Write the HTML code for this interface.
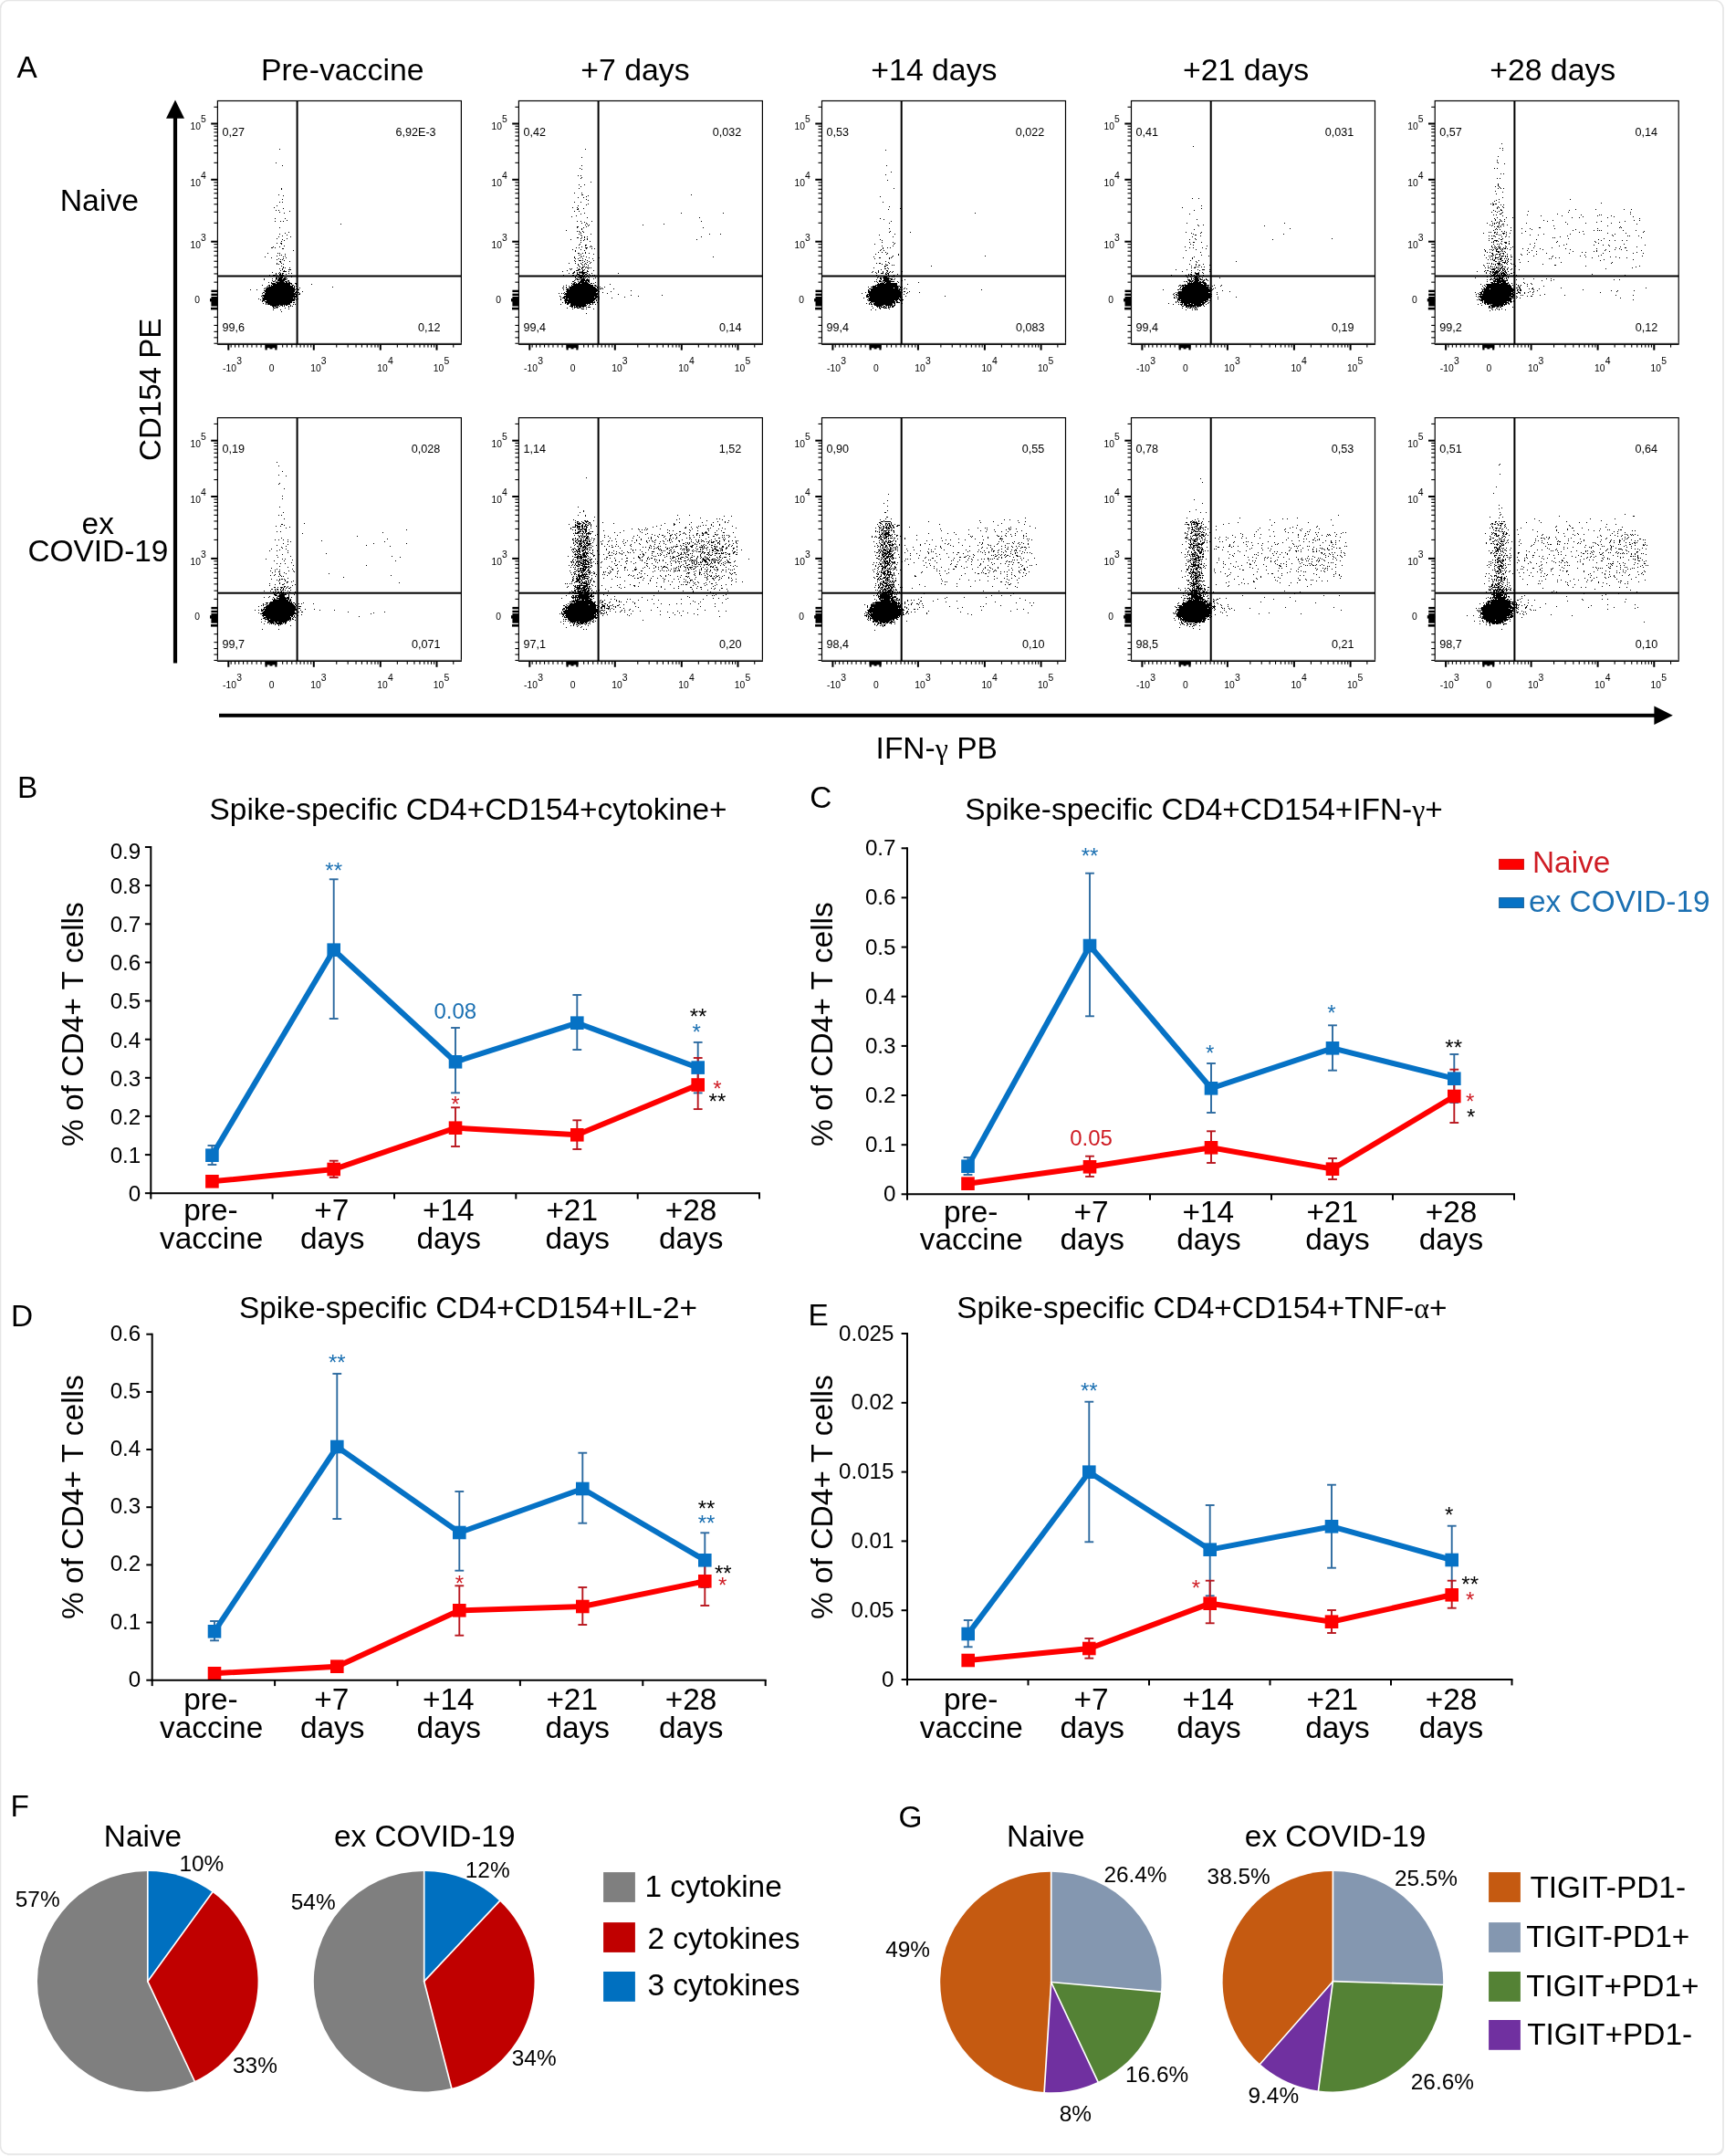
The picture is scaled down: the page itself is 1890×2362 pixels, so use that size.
<!DOCTYPE html><html><head><meta charset="utf-8"><title>Figure</title><style>
html,body{margin:0;padding:0;background:#fff}body{width:1890px;height:2362px;overflow:hidden}
svg{display:block;will-change:transform;font-family:"Liberation Sans",sans-serif}
</style></head><body>
<svg width="1890" height="2362" viewBox="0 0 1890 2362" font-family="Liberation Sans, sans-serif">
<rect x="0" y="0" width="1890" height="2362" fill="#fff"/>
<rect x="0.5" y="0.5" width="1887.5" height="2359.5" rx="9" ry="9" fill="#fff" stroke="#e6e6e6" stroke-width="1.6"/>
<path d="M1888.2 8 V2352 Q1888.2 2360.4 1880 2360.4 H8" fill="none" stroke="#e9e9e9" stroke-width="1.6"/>
<text x="18.6" y="85.2" font-size="33.4" text-anchor="start" fill="#000">A</text>
<text x="375.3" y="87.7" font-size="33.8" text-anchor="middle" fill="#000">Pre-vaccine</text>
<text x="695.9" y="87.7" font-size="33.8" text-anchor="middle" fill="#000">+7 days</text>
<text x="1023.4" y="87.7" font-size="33.8" text-anchor="middle" fill="#000">+14 days</text>
<text x="1365" y="87.7" font-size="33.8" text-anchor="middle" fill="#000">+21 days</text>
<text x="1701.2" y="87.7" font-size="33.8" text-anchor="middle" fill="#000">+28 days</text>
<text x="108.9" y="231.4" font-size="33.8" text-anchor="middle" fill="#000">Naive</text>
<text x="107.2" y="584.7" font-size="33.4" text-anchor="middle" fill="#000">ex</text>
<text x="107.4" y="615.3" font-size="33.4" text-anchor="middle" fill="#000">COVID-19</text>
<text transform="translate(176.3 505) rotate(-90)" font-size="33.1" text-anchor="start" fill="#000">CD154 PE</text>
<rect x="189.9" y="125" width="4.2" height="601.5" fill="#000"/>
<path d="M192 109.6 L202 129.8 L182 129.8 Z"/>
<rect x="240" y="781.8" width="1575" height="4" fill="#000"/>
<path d="M1832.8 783.8 L1812.4 773.6 L1812.4 794 Z"/>
<text x="959.6" y="831.3" font-size="33.5">IFN-<tspan font-family="Liberation Serif" font-size="32">γ</tspan> PB</text>
<defs><g id="ax"><rect x="-7.2" y="24" width="7.2" height="2"/><rect x="-7.2" y="85.3" width="7.2" height="2"/><rect x="-7.2" y="153.2" width="7.2" height="2"/><rect x="-4" y="6.2" width="4" height="1.1"/><rect x="-4" y="67.3" width="4" height="1.1"/><rect x="-4" y="133.2" width="4" height="1.1"/><rect x="-4" y="56.5" width="4" height="1.1"/><rect x="-4" y="121.2" width="4" height="1.1"/><rect x="-4" y="48.8" width="4" height="1.1"/><rect x="-4" y="112.7" width="4" height="1.1"/><rect x="-4" y="42.8" width="4" height="1.1"/><rect x="-4" y="106.1" width="4" height="1.1"/><rect x="-4" y="38" width="4" height="1.1"/><rect x="-4" y="100.7" width="4" height="1.1"/><rect x="-4" y="33.9" width="4" height="1.1"/><rect x="-4" y="96.2" width="4" height="1.1"/><rect x="-4" y="30.3" width="4" height="1.1"/><rect x="-4" y="92.2" width="4" height="1.1"/><rect x="-4" y="27.2" width="4" height="1.1"/><rect x="-4" y="88.8" width="4" height="1.1"/><rect x="-4" y="156.5" width="4" height="1.1"/><rect x="-4" y="160.1" width="4" height="1.1"/><rect x="-4" y="164.2" width="4" height="1.1"/><rect x="-4" y="169.1" width="4" height="1.1"/><rect x="-4" y="175.2" width="4" height="1.1"/><rect x="-4" y="181.6" width="4" height="1.1"/><rect x="-4" y="188.9" width="4" height="1.1"/><rect x="-4" y="198.1" width="4" height="1.1"/><rect x="-4" y="236.4" width="4" height="1.1"/><rect x="-4" y="245.4" width="4" height="1.1"/><rect x="-4" y="252.3" width="4" height="1.1"/><rect x="-4" y="258.8" width="4" height="1.1"/><rect x="-4" y="265.2" width="4" height="1.1"/><rect x="-7" y="207.2" width="7" height="2.4"/><rect x="-7" y="211.1" width="7" height="2.4"/><rect x="-7" y="214.4" width="7" height="10.6"/><rect x="-8.4" y="216.5" width="8.4" height="3.4"/><rect x="-7.4" y="226.3" width="7.4" height="2.6"/><rect x="10.9" y="266.5" width="2" height="6.6"/><rect x="104.4" y="266.5" width="2" height="6.6"/><rect x="177.4" y="266.5" width="2" height="6.6"/><rect x="239.1" y="266.5" width="2" height="6.6"/><rect x="14.2" y="266.5" width="1.1" height="3.6"/><rect x="18.6" y="266.5" width="1.1" height="3.6"/><rect x="22.8" y="266.5" width="1.1" height="3.6"/><rect x="27.6" y="266.5" width="1.1" height="3.6"/><rect x="32.1" y="266.5" width="1.1" height="3.6"/><rect x="37" y="266.5" width="1.1" height="3.6"/><rect x="42.2" y="266.5" width="1.1" height="3.6"/><rect x="47.1" y="266.5" width="1.1" height="3.6"/><rect x="70.7" y="266.5" width="1.1" height="3.6"/><rect x="75.5" y="266.5" width="1.1" height="3.6"/><rect x="80.8" y="266.5" width="1.1" height="3.6"/><rect x="86" y="266.5" width="1.1" height="3.6"/><rect x="90.2" y="266.5" width="1.1" height="3.6"/><rect x="94.2" y="266.5" width="1.1" height="3.6"/><rect x="98.2" y="266.5" width="1.1" height="3.6"/><rect x="101.8" y="266.5" width="1.1" height="3.6"/><rect x="129.8" y="266.5" width="1.1" height="3.6"/><rect x="142.2" y="266.5" width="1.1" height="3.6"/><rect x="151.1" y="266.5" width="1.1" height="3.6"/><rect x="157.5" y="266.5" width="1.1" height="3.6"/><rect x="163.3" y="266.5" width="1.1" height="3.6"/><rect x="168" y="266.5" width="1.1" height="3.6"/><rect x="172" y="266.5" width="1.1" height="3.6"/><rect x="175.1" y="266.5" width="1.1" height="3.6"/><rect x="257.8" y="266.5" width="1.1" height="3.6"/><rect x="196.4" y="266.5" width="1.1" height="3.6"/><rect x="207.3" y="266.5" width="1.1" height="3.6"/><rect x="215" y="266.5" width="1.1" height="3.6"/><rect x="221" y="266.5" width="1.1" height="3.6"/><rect x="225.9" y="266.5" width="1.1" height="3.6"/><rect x="230" y="266.5" width="1.1" height="3.6"/><rect x="233.6" y="266.5" width="1.1" height="3.6"/><rect x="236.7" y="266.5" width="1.1" height="3.6"/><rect x="52.1" y="266.5" width="13" height="4.2"/><rect x="52.1" y="266.5" width="2.2" height="6.4"/><rect x="57.1" y="266.5" width="3" height="5.4"/><rect x="62.9" y="266.5" width="2.2" height="6.4"/><rect x="0" y="0" width="267" height="266.5" fill="none" stroke="#000" stroke-width="1.2"/><rect x="0" y="264.9" width="267" height="1" fill="#bbb"/><rect x="0" y="265.9" width="267" height="1.4"/><rect x="86.2" y="0" width="2" height="266.5"/><rect x="0" y="191" width="267" height="2"/><g font-size="10.3"><text x="-30" y="31.9">10</text><text x="-18.4" y="23.9" font-size="10.4">5</text><text x="-30" y="93.2">10</text><text x="-18.4" y="85.2" font-size="10.4">4</text><text x="-30" y="161.1">10</text><text x="-18.4" y="153.1" font-size="10.4">3</text><text x="-25.2" y="221.8">0</text><text x="5.6" y="296.3">-10</text><text x="20.8" y="288.3" font-size="10.4">3</text><text x="56.4" y="296.3">0</text><text x="101.8" y="296.3">10</text><text x="113.4" y="288.3" font-size="10.4">3</text><text x="174.9" y="296.3">10</text><text x="186.5" y="288.3" font-size="10.4">4</text><text x="236.4" y="296.3">10</text><text x="248" y="288.3" font-size="10.4">5</text></g></g></defs>
<g transform="translate(238.4 110.5)">
<use href="#ax"/>
<path d="M68 52h1m-5 15h1m6 3h1m-2 25h1m-1 1h1m-4 6h1m4 1h1m-2 4h1m-4 3h1m2 0h1m-7 4h1m-4 2h1m9 1h1m-9 2h1m2 0h1m11 1h1m-12 1h1m4 1h1m-11 6h1m10 0h1m1 2h1m-14 1h1m5 0h1m2 0h1m62 3h1m-68 4h1m9 5h1m-5 1h1m-7 1h1m7 1h1m-6 1h1m-5 1h1m12 0h1m-16 2h1m10 0h1m-6 1h1m1 1h1m-4 1h1m-6 2h1m3 0h2m-1 1h1m2 2h1m-13 1h1m6 0h1m-10 1h2m2 0h1m7 1h2m10 2h1m-29 3h1m10 0h1m1 0h1m5 1h1m-7 1h1m1 0h1m-6 1h1m8 0h1m-23 1h1m19 0h1m-14 1h1m15 0h1m-9 1h1m4 0h1m-8 1h1m3 0h1m1 0h1m1 1h1m-6 1h2m9 0h1m-11 1h1m-5 1h1m4 0h1m-6 1h1m1 0h1m4 0h1m-3 2h1m1 1h1m-1 1h1m1 0h1m4 0h1m-12 1h1m2 0h1m-1 1h1m6 0h3m-12 1h1m3 0h1m-2 1h4m2 0h1m-19 1h1m7 0h1m-5 1h1m2 0h1m1 0h1m1 0h2m5 0h1m2 0h1m-18 1h1m3 0h2m1 0h1m3 0h1m-19 1h1m3 0h3m1 0h1m2 0h5m-5 1h4m2 0h1m2 0h1m-13 1h1m1 0h1m1 0h3m9 0h1m-18 1h2m1 0h5m1 0h3m-25 1h1m8 0h1m3 0h2m1 0h4m1 0h3m1 0h1m-26 1h1m12 0h1m1 0h10m-16 1h1m2 0h1m2 0h8m3 0h2m-18 1h2m1 0h1m1 0h1m1 0h5m1 0h3m1 0h1m-23 1h1m2 0h1m4 0h10m1 0h2m1 0h2m-21 1h5m1 0h17m3 0h2m-27 1h20m1 0h1m4 0h2m15 0h1m-55 1h1m6 0h2m1 0h1m1 0h19m2 0h2m-29 1h1m1 0h1m1 0h24m1 0h1m1 0h1m-33 1h1m1 0h27m1 0h1m2 0h1m38 0h1m-75 1h1m1 0h31m5 0h1m-40 1h1m1 0h32m1 0h1m1 0h1m-53 1h1m6 0h1m9 0h33m1 0h3m-39 1h34m-33 1h33m1 0h1m6 0h1m-44 1h2m1 0h31m1 0h2m1 0h2m-41 1h1m2 0h34m4 0h1m-39 1h36m1 0h2m-42 1h36m1 0h1m-39 1h1m1 0h37m-38 1h1m1 0h36m-37 1h33m1 0h1m2 0h1m-43 1h1m3 0h37m1 0h2m-42 1h1m2 0h35m1 0h1m-38 1h3m2 0h31m-36 1h1m2 0h30m-29 1h29m1 0h2m-35 1h1m2 0h1m1 0h25m-27 1h1m1 0h25m3 0h1m1 0h1m-28 1h10m1 0h3m1 0h1m1 0h2m3 0h1m-21 1h5m1 0h1m1 0h1m2 0h1m1 0h1m4 0h1m1 0h1m1 0h1m-22 1h1m2 0h3m11 0h1m-18 1h3m1 0h1m8 0h1m3 1h1m-18 1h1m7 0h1m0 2h1" stroke="#000" stroke-width="1" fill="none" transform="translate(0 .5)" shape-rendering="crispEdges"/>
<g font-size="12">
<text x="5" y="38.3" font-size="12.6" text-anchor="start" fill="#000">0,27</text>
<text x="239.2" y="38.2" font-size="12.6" text-anchor="end" fill="#000">6,92E-3</text>
<text x="5" y="252.5" font-size="12.6" text-anchor="start" fill="#000">99,6</text>
<text x="244" y="252.3" font-size="12.6" text-anchor="end" fill="#000">0,12</text>
</g>
</g>
<g transform="translate(568.4 110.5)">
<use href="#ax"/>
<path d="M73 52h1m-5 9h1m-1 9h1m-3 3h1m1 1h1m-5 7h1m2 0h1m0 2h1m-2 1h1m10 4h1m-14 3h1m5 0h1m-5 2h1m-3 2h1m-6 5h1m7 0h1m-1 2h2m118 0h1m-114 1h1m-3 1h1m-10 1h1m5 0h1m2 2h1m1 1h1m-16 2h1m6 0h1m7 2h1m-3 1h1m-10 1h1m-7 2h1m4 0h1m0 1h1m5 0h1m-8 1h2m-5 2h1m4 0h1m5 2h1m105 0h1m45 0h1m-157 1h1m-6 2h1m-6 1h1m16 1h1m122 0h1m-135 4h1m3 0h1m11 0h1m119 0h1m-129 1h1m-4 1h1m4 0h1m0 1h1m83 0h1m-87 1h1m3 0h1m58 0h1m-61 1h1m-13 1h2m8 0h1m-11 1h1m6 0h1m130 0h1m-134 1h1m-1 1h1m-18 1h1m11 1h1m1 0h1m3 0h1m-4 1h1m3 0h1m-4 1h1m-3 1h1m12 0h1m129 0h1m11 0h1m-154 1h1m0 1h1m2 1h1m2 0h1m124 0h1m-137 1h2m3 0h1m2 0h1m-5 1h1m6 0h1m-19 1h1m14 0h1m2 0h1m119 0h1m-128 1h1m2 0h1m6 1h1m-11 1h1m-2 2h1m-2 1h1m6 0h2m-2 1h1m5 0h1m-11 1h1m8 0h1m1 0h1m-18 1h1m2 0h1m6 0h3m-2 1h1m5 0h1m2 0h1m-25 1h1m8 0h1m-7 1h1m9 0h1m-11 1h1m10 1h1m-9 1h2m3 0h1m2 0h1m3 0h1m-10 1h1m13 0h1m-17 1h1m1 1h1m2 0h1m-11 1h1m7 0h1m4 0h1m138 0h1m-153 1h1m5 0h1m9 0h1m10 0h1m-27 1h1m2 0h1m4 0h1m10 0h1m-9 1h1m-13 1h1m4 0h3m1 0h1m4 0h1m6 0h1m-21 1h1m9 0h1m4 0h1m-8 1h1m4 0h1m3 0h1m-25 1h1m6 0h1m5 0h1m4 0h1m4 0h1m-14 1h1m3 0h1m2 0h1m1 0h1m-10 1h1m4 0h1m5 0h1m-11 1h1m5 0h1m-6 1h1m2 0h2m2 0h1m1 0h1m-13 1h1m4 0h2m2 0h1m1 0h1m1 0h1m1 0h1m-24 1h1m1 0h1m7 0h1m2 0h1m6 0h1m-20 1h1m7 0h3m2 0h1m1 0h1m-20 1h1m9 0h3m4 0h2m3 0h1m6 0h1m-35 1h1m12 0h1m5 0h1m1 0h2m4 0h2m-17 1h2m2 0h1m1 0h9m-20 1h1m3 0h2m3 0h1m2 0h1m1 0h4m2 0h1m4 0h1m28 0h1m-46 1h3m3 0h2m1 0h2m2 0h1m-29 1h1m9 0h2m2 0h1m2 0h5m1 0h1m2 0h1m2 0h1m2 0h1m1 0h1m-23 1h1m3 0h2m1 0h9m2 0h1m-18 1h1m3 0h7m1 0h1m1 0h1m-15 1h1m2 0h1m1 0h3m1 0h1m1 0h1m3 0h1m6 0h1m-22 1h2m2 0h1m1 0h4m2 0h1m6 0h1m-21 1h1m1 0h3m1 0h5m1 0h4m-17 1h1m6 0h10m-19 1h2m4 0h1m1 0h5m1 0h2m1 0h2m-17 1h2m3 0h10m1 0h1m6 0h1m-27 1h1m1 0h2m1 0h1m1 0h3m1 0h8m2 0h2m1 0h1m-24 1h20m21 0h1m-49 1h1m5 0h1m1 0h22m1 0h2m-36 1h1m5 0h1m2 0h24m2 0h2m-34 1h1m3 0h28m2 0h1m2 0h1m4 0h1m-47 1h2m2 0h1m2 0h30m1 0h1m4 0h1m-39 1h2m1 0h30m1 0h1m1 0h2m1 0h1m11 0h1m-56 1h1m2 0h35m-34 1h34m36 0h1m-72 1h34m2 0h1m12 0h1m-52 1h1m2 0h32m7 0h1m-49 1h1m2 0h1m1 0h1m1 0h37m9 0h1m-48 1h38m21 0h1m-58 1h34m1 0h1m35 0h1m33 0h1m-113 1h1m4 0h37m44 0h1m-86 1h1m2 0h34m1 0h3m1 0h1m27 0h1m-69 1h3m1 0h34m16 0h1m-57 1h1m3 0h4m1 0h30m3 0h1m-43 1h1m4 0h33m1 0h1m-36 1h33m2 0h1m-35 1h2m1 0h28m1 0h1m-36 1h1m2 0h33m2 0h1m-36 1h1m1 0h3m1 0h22m2 0h1m-36 1h1m6 0h2m2 0h17m1 0h1m2 0h2m1 0h1m2 0h1m-28 1h18m2 0h1m-22 1h4m1 0h1m1 0h11m-16 1h2m1 0h4m1 0h3m1 0h2m2 0h1m1 0h3m-26 1h1m7 0h1m2 0h3m1 0h1m-10 1h1m9 0h3m2 0h1m7 0h1m4 2h1m-14 3h1" stroke="#000" stroke-width="1" fill="none" transform="translate(0 .5)" shape-rendering="crispEdges"/>
<g font-size="12">
<text x="5" y="38.3" font-size="12.6" text-anchor="start" fill="#000">0,42</text>
<text x="243.8" y="38.2" font-size="12.6" text-anchor="end" fill="#000">0,032</text>
<text x="5" y="252.5" font-size="12.6" text-anchor="start" fill="#000">99,4</text>
<text x="244" y="252.3" font-size="12.6" text-anchor="end" fill="#000">0,14</text>
</g>
</g>
<g transform="translate(900.5 110.5)">
<use href="#ax"/>
<path d="M69 53h1m0 17h1m4 7h1m-7 3h1m1 6h1m6 9h1m-16 9h1m2 6h1m6 5h1m11 2h1m-14 1h1m94 4h1m-105 6h1m3 1h1m7 2h1m-3 2h1m-1 6h1m0 3h1m-2 1h1m22 0h1m-18 2h1m-18 1h1m14 2h1m-15 3h1m1 1h1m-1 2h1m11 0h1m1 1h1m-23 1h1m20 0h1m-14 2h1m11 0h1m-12 2h1m4 0h1m2 0h1m-9 1h1m-3 1h1m-2 1h1m3 0h1m-7 2h1m3 0h1m3 0h1m1 1h1m-14 1h1m11 0h1m12 0h1m-1 1h1m-7 1h1m100 0h1m-123 1h1m19 0h1m-15 1h2m9 0h1m1 0h1m-19 1h1m15 0h1m-5 3h1m2 1h1m-14 1h1m2 0h2m9 0h1m-9 1h1m3 0h1m0 1h2m4 0h1m1 0h1m-11 1h2m49 0h1m-52 1h1m-13 1h1m14 0h1m-4 1h2m2 0h1m-9 1h1m-4 1h1m8 0h2m-17 1h1m5 0h1m4 0h1m4 0h1m2 0h1m2 0h1m9 0h1m-34 1h1m3 0h1m2 0h1m4 0h1m3 0h1m2 0h1m2 0h1m-18 1h1m4 0h3m2 0h1m1 0h2m-4 1h2m1 0h1m9 0h1m-24 1h1m12 0h1m5 0h1m-17 1h2m3 0h3m1 0h3m2 0h1m7 0h1m-24 1h1m5 0h4m2 0h1m2 0h1m1 0h1m-19 1h1m2 0h2m1 0h7m-10 1h2m2 0h10m2 0h1m-21 1h1m4 0h1m2 0h6m2 0h2m1 0h1m11 0h1m-29 1h2m2 0h9m12 0h1m-31 1h1m1 0h1m2 0h3m1 0h1m1 0h11m3 0h1m-23 1h1m4 0h1m1 0h2m1 0h5m8 0h1m21 0h1m-45 1h1m1 0h5m1 0h13m-22 1h22m11 0h1m-36 1h24m-27 1h4m1 0h25m-35 1h1m2 0h30m2 0h1m1 0h1m-33 1h23m1 0h5m1 0h2m3 0h1m-40 1h32m1 0h1m1 0h1m2 0h1m2 0h1m-43 1h1m2 0h35m86 0h1m-125 1h2m1 0h32m-35 1h37m2 0h2m4 0h1m-49 1h1m2 0h36m1 0h1m5 0h1m12 0h1m-64 1h1m7 0h36m5 0h1m-44 1h38m2 0h1m-42 1h2m1 0h35m-38 1h39m4 0h1m42 0h1m-87 1h3m1 0h34m1 0h1m-43 1h1m5 0h33m1 0h2m-37 1h35m1 0h2m-39 1h1m1 0h32m1 0h5m-39 1h29m1 0h2m3 0h1m1 0h1m-35 1h27m1 0h2m3 0h1m-35 1h2m1 0h1m1 0h23m1 0h4m-37 1h1m2 0h1m1 0h1m2 0h21m1 0h2m7 0h1m-37 1h1m1 0h2m1 0h21m2 0h1m-23 1h10m2 0h8m1 0h2m-26 1h1m4 0h6m2 0h2m1 0h1m1 0h1m1 0h1m1 0h3m-19 1h1m1 0h1m1 0h4m1 0h1m2 0h3m1 0h2m-23 1h1m6 0h2m3 0h4m1 0h1m-10 1h1m9 0h1m-21 1h1m4 0h1" stroke="#000" stroke-width="1" fill="none" transform="translate(0 .5)" shape-rendering="crispEdges"/>
<g font-size="12">
<text x="5" y="38.3" font-size="12.6" text-anchor="start" fill="#000">0,53</text>
<text x="243.8" y="38.2" font-size="12.6" text-anchor="end" fill="#000">0,022</text>
<text x="5" y="252.5" font-size="12.6" text-anchor="start" fill="#000">99,4</text>
<text x="244" y="252.3" font-size="12.6" text-anchor="end" fill="#000">0,083</text>
</g>
</g>
<g transform="translate(1239.5 110.5)">
<use href="#ax"/>
<path d="M67 49h1m-2 57h1m6 0h1m2 8h1m-22 2h1m20 1h1m-9 2h1m-6 4h1m7 6h1m-12 4h1m106 0h1m-96 2h1m5 0h1m-6 1h1m71 0h1m27 3h1m-106 1h1m-10 3h1m16 0h1m-12 1h1m9 0h1m-9 1h1m98 0h1m-98 1h2m4 1h1m-10 1h1m2 2h1m149 0h1m-157 1h1m6 0h1m83 0h1m-92 3h1m3 0h2m7 0h1m-13 2h1m2 1h1m14 1h1m-25 1h1m4 1h1m3 0h1m9 0h1m3 1h1m-12 1h1m-12 1h1m15 2h1m0 3h1m7 1h1m-17 1h1m-13 1h1m9 0h1m-1 1h1m-3 2h1m8 0h1m-4 1h1m43 0h1m-44 1h1m-9 2h1m6 0h1m7 0h1m-9 1h1m2 0h2m10 0h1m-21 1h1m3 1h1m1 0h1m1 0h1m2 0h1m2 0h1m-15 1h1m2 0h2m-22 2h1m11 0h1m11 0h1m4 0h3m5 0h1m-21 1h1m8 0h1m-20 1h1m29 0h1m-21 1h1m3 0h1m3 0h1m3 0h1m-9 1h5m4 0h1m-17 1h1m1 0h2m4 0h4m-31 1h1m15 0h1m2 0h1m2 0h1m2 0h1m2 0h1m1 0h1m4 0h1m-19 1h1m1 0h1m5 0h6m1 0h1m3 0h1m-20 1h1m3 0h1m4 0h3m2 0h1m-14 1h1m3 0h1m2 0h6m3 0h1m18 0h1m-32 1h1m1 0h1m1 0h4m1 0h2m5 0h1m-21 1h3m1 0h1m2 0h6m1 0h3m1 0h1m1 0h2m-21 1h3m1 0h2m1 0h5m4 0h2m3 0h1m-27 1h1m1 0h2m2 0h4m1 0h5m1 0h2m1 0h2m-18 1h1m1 0h1m1 0h1m1 0h14m-20 1h15m2 0h4m-24 1h1m2 0h17m1 0h3m-30 1h2m1 0h30m5 0h1m7 0h1m-48 1h1m2 0h3m1 0h24m1 0h1m4 0h1m8 0h1m-45 1h1m2 0h29m1 0h1m-34 1h1m1 0h29m1 0h2m4 0h1m-40 1h1m2 0h30m2 0h1m1 0h1m-56 1h1m15 0h2m1 0h33m2 0h1m-34 1h33m11 0h1m-49 1h35m21 0h1m-60 1h1m1 0h34m2 0h1m6 0h1m-48 1h1m3 0h37m-42 1h1m2 0h2m1 0h35m1 0h1m5 0h1m-48 1h1m2 0h38m-39 1h1m2 0h35m1 0h1m-42 1h1m2 0h1m1 0h36m7 0h1m19 0h1m-69 1h2m1 0h1m1 0h36m-37 1h34m10 0h1m-45 1h3m1 0h30m-34 1h1m1 0h30m1 0h1m1 0h2m-39 1h1m1 0h1m3 0h25m1 0h3m-35 1h1m2 0h1m1 0h28m3 0h1m-45 1h1m14 0h1m1 0h7m1 0h11m1 0h3m3 0h1m-39 1h1m5 0h1m1 0h3m1 0h4m1 0h5m1 0h11m2 0h1m-28 1h1m2 0h20m1 0h1m-24 1h2m2 0h11m1 0h5m3 0h1m-21 1h2m1 0h1m1 0h2m1 0h1m1 0h2m1 0h1m-18 1h1m5 0h1m1 0h2m1 0h1m1 0h1m1 0h1m-2 1h1m1 0h1m-13 1h1m6 0h1m2 0h1m1 0h1" stroke="#000" stroke-width="1" fill="none" transform="translate(0 .5)" shape-rendering="crispEdges"/>
<g font-size="12">
<text x="5" y="38.3" font-size="12.6" text-anchor="start" fill="#000">0,41</text>
<text x="243.8" y="38.2" font-size="12.6" text-anchor="end" fill="#000">0,031</text>
<text x="5" y="252.5" font-size="12.6" text-anchor="start" fill="#000">99,4</text>
<text x="244" y="252.3" font-size="12.6" text-anchor="end" fill="#000">0,19</text>
</g>
</g>
<g transform="translate(1572.2 110.5)">
<use href="#ax"/>
<path d="M73 46h1m-3 5h1m2 0h1m-1 2h1m-6 7h1m-2 4h1m-1 2h1m0 1h1m6 1h1m-12 5h1m2 0h1m3 6h1m2 0h1m-8 5h1m2 0h1m-3 6h1m-1 1h1m-1 1h1m-4 1h1m3 0h1m0 1h1m-3 1h1m2 0h1m2 0h1m-10 3h1m7 1h1m-8 2h1m6 4h1m-5 2h1m77 0h1m-82 1h1m-3 1h1m4 1h1m-8 1h1m118 0h1m-122 1h1m2 0h1m1 0h2m-5 1h2m7 0h1m2 0h1m-7 2h1m4 0h1m-7 1h1m1 0h1m4 0h1m-8 1h1m3 1h1m81 0h1m21 0h1m30 0h1m7 0h1m-152 1h1m7 0h2m73 0h1m-82 1h1m3 0h1m31 0h1m-41 1h1m5 0h1m5 0h1m71 0h1m67 0h1m-142 1h1m-3 1h2m61 0h1m79 0h1m-151 1h1m2 0h1m33 0h1m58 0h1m19 0h1m1 0h1m-109 1h1m41 0h1m22 0h1m38 0h1m14 0h1m-32 1h1m33 0h1m20 0h1m-150 1h1m9 0h1m6 0h1m64 0h1m7 0h1m30 0h1m-125 1h1m158 0h1m-159 1h1m4 0h1m4 0h1m-11 1h1m5 0h1m46 0h1m9 0h1m88 0h1m5 0h1m-163 1h1m8 0h1m1 0h1m2 0h1m46 0h1m58 0h1m25 0h1m-141 1h1m1 0h1m72 0h1m33 0h1m24 0h1m-146 1h1m5 0h1m1 0h1m1 0h1m2 0h1m29 0h1m64 0h1m27 0h1m-129 1h1m4 0h1m3 0h2m69 0h1m75 0h1m-162 1h1m2 0h1m9 0h1m5 0h1m-18 1h1m6 0h1m1 0h1m3 0h1m54 0h1m58 0h1m-125 1h1m2 0h2m2 0h1m130 0h1m-134 1h1m12 0h1m30 0h2m86 0h1m1 0h1m-138 1h1m27 0h1m8 0h1m26 0h1m46 0h1m-113 1h1m1 0h1m2 0h1m34 0h1m47 0h1m-91 1h1m18 0h1m67 0h1m22 0h1m3 0h1m1 0h1m1 0h1m23 0h1m13 0h1m-148 1h1m2 0h1m22 0h1m62 0h1m66 0h1m-171 1h1m1 0h1m3 0h2m1 0h1m9 0h1m79 0h1m69 0h1m-176 1h1m11 0h1m8 0h3m5 0h1m12 0h1m93 0h1m19 0h1m-143 1h2m6 0h1m2 0h1m40 0h1m28 0h1m14 0h1m33 0h1m-128 1h1m1 0h1m31 0h1m8 0h1m80 0h1m-136 1h1m2 0h1m1 0h2m12 0h1m66 0h1m49 0h1m15 0h1m1 0h1m9 0h1m-158 1h1m6 0h1m3 0h1m3 0h1m55 0h1m-9 1h1m1 0h1m94 0h1m-168 1h1m2 0h2m6 0h1m3 0h1m71 0h1m38 0h1m-114 1h2m37 0h1m67 0h1m-121 1h1m5 0h4m113 0h1m8 0h1m5 0h1m7 0h1m4 0h1m-147 1h1m2 0h1m1 0h1m3 0h1m7 0h1m52 0h1m40 0h1m-114 1h1m1 0h1m11 0h3m54 0h1m42 0h1m-105 1h1m4 0h2m2 0h1m27 0h1m69 0h1m-116 1h1m3 0h1m1 0h1m2 0h1m7 0h1m22 0h1m39 0h1m62 0h1m-67 1h1m32 0h1m9 0h1m5 0h1m39 0h1m-169 1h1m2 0h1m4 0h1m6 0h1m31 0h1m26 0h1m54 0h1m-130 1h1m3 0h1m2 0h1m1 0h1m6 0h1m6 0h1m117 0h1m17 0h1m-159 1h1m1 0h1m1 0h1m2 0h2m3 0h1m1 0h1m5 0h1m24 0h1m19 0h1m69 0h1m9 0h2m-144 1h1m1 0h1m1 0h1m1 0h1m1 0h1m1 0h2m1 0h1m16 0h1m5 0h1m12 0h1m27 0h1m33 0h1m24 0h1m-149 1h1m5 0h1m1 0h1m1 0h1m2 0h2m3 0h1m1 0h1m7 0h1m35 0h1m29 0h1m38 0h1m9 0h1m6 0h1m-150 1h1m7 0h1m3 0h1m5 0h1m27 0h1m4 0h1m70 0h1m8 0h1m23 0h1m15 0h1m-172 1h1m11 0h4m1 0h1m1 0h1m1 0h1m34 0h1m39 0h1m22 0h1m2 0h1m13 0h1m-135 1h1m2 0h1m8 0h2m6 0h1m25 0h1m57 0h1m3 0h1m55 0h1m-160 1h2m8 0h1m1 0h2m46 0h1m24 0h1m36 0h1m32 0h1m10 0h1m-166 1h1m3 0h2m1 0h2m3 0h1m3 0h1m14 0h1m6 0h1m9 0h1m-58 1h1m8 0h2m1 0h1m4 0h1m11 0h1m11 0h1m68 0h1m17 0h1m-124 1h1m1 0h2m8 0h1m1 0h3m1 0h1m1 0h1m28 0h1m20 0h1m29 0h1m19 0h1m47 0h1m-165 1h1m2 0h1m3 0h1m2 0h1m3 0h1m1 0h1m3 0h2m43 0h1m36 0h1m26 0h1m5 0h1m-143 1h1m3 0h1m5 0h4m2 0h1m59 0h1m3 0h1m35 0h1m29 0h1m7 0h1m-148 1h1m2 0h1m4 0h3m2 0h1m1 0h1m1 0h1m44 0h1m1 0h1m-70 1h1m2 0h1m1 0h1m1 0h1m3 0h1m1 0h2m7 0h1m2 0h1m8 0h1m92 0h1m31 0h1m-154 1h2m7 0h2m2 0h1m1 0h1m101 0h1m-116 1h2m2 0h1m1 0h1m4 0h1m2 0h1m21 0h1m-33 1h1m3 0h4m1 0h1m13 0h1m44 0h1m55 0h1m-138 1h1m1 0h1m2 0h1m5 0h4m4 0h1m1 0h1m4 0h1m109 0h1m-132 1h1m1 0h1m1 0h1m2 0h3m1 0h1m5 0h1m4 0h1m1 0h1m31 0h1m-66 1h1m12 0h1m2 0h1m1 0h1m1 0h1m57 0h2m-79 1h1m3 0h1m2 0h1m9 0h1m2 0h1m13 0h1m76 0h1m58 0h1m-164 1h1m1 0h1m1 0h1m1 0h1m1 0h1m3 0h2m1 0h2m142 0h1m-166 1h1m2 0h2m7 0h2m1 0h1m1 0h2m6 0h1m135 0h1m-156 1h1m1 0h4m2 0h1m1 0h2m1 0h3m2 0h1m4 0h1m102 0h1m-126 1h4m3 0h1m1 0h1m2 0h1m1 0h1m2 0h1m3 0h1m3 0h1m4 0h1m-38 1h1m1 0h2m6 0h1m1 0h2m1 0h2m2 0h2m1 0h1m-32 1h1m7 0h1m5 0h2m1 0h2m1 0h5m2 0h1m2 0h2m2 0h1m-25 1h1m4 0h1m1 0h7m2 0h1m1 0h2m1 0h2m7 0h1m-31 1h1m3 0h1m2 0h1m1 0h4m1 0h1m1 0h5m1 0h1m4 0h2m-24 1h1m2 0h3m1 0h1m1 0h1m1 0h2m1 0h3m1 0h1m1 0h1m90 0h1m-111 1h4m1 0h5m1 0h6m7 0h1m2 0h1m118 0h1m-151 1h1m1 0h3m2 0h7m1 0h3m1 0h1m2 0h1m1 0h2m1 0h1m-29 1h1m3 0h1m3 0h3m1 0h3m2 0h2m4 0h1m-37 1h1m20 0h1m2 0h1m1 0h5m3 0h1m1 0h1m-20 1h2m1 0h11m1 0h1m1 0h1m18 0h1m10 0h1m13 0h1m4 0h1m-71 1h1m2 0h2m1 0h1m2 0h6m1 0h3m3 0h1m9 0h1m40 0h1m65 0h1m5 0h1m-139 1h3m1 0h12m37 0h1m9 0h1m-71 1h1m6 0h14m-17 1h3m1 0h1m2 0h5m1 0h4m2 0h1m16 0h1m-36 1h9m1 0h9m3 0h1m13 0h1m6 0h1m-56 1h1m5 0h24m1 0h1m7 0h1m11 0h1m4 0h1m-53 1h1m2 0h26m2 0h1m5 0h1m2 0h1m-43 1h1m2 0h1m1 0h27m7 0h1m1 0h1m7 0h1m17 0h1m-64 1h28m2 0h1m5 0h1m-40 1h2m1 0h29m4 0h2m1 0h2m13 0h1m30 0h1m92 0h1m-181 1h1m2 0h6m1 0h27m5 0h1m9 0h1m2 0h2m6 0h1m-63 1h35m3 0h2m1 0h2m13 0h1m53 0h1m-111 1h1m1 0h33m3 0h1m2 0h2m17 0h1m80 0h1m6 0h1m17 0h1m-168 1h35m1 0h1m3 0h1m12 0h1m3 0h1m90 0h1m-156 1h1m4 0h3m1 0h31m1 0h2m4 0h3m4 0h1m3 0h1m4 0h1m73 0h1m-135 1h1m2 0h2m1 0h33m1 0h1m1 0h2m2 0h1m4 0h1m-54 1h1m2 0h39m20 0h1m12 0h1m-71 1h1m1 0h32m1 0h2m7 0h1m1 0h1m18 0h1m26 0h1m55 0h1m18 0h1m-173 1h1m2 0h39m2 0h1m11 0h1m3 0h2m-60 1h1m1 0h33m1 0h3m1 0h1m2 0h1m-41 1h34m1 0h2m2 0h1m3 0h1m109 0h1m-156 1h1m2 0h34m-39 1h1m1 0h36m133 0h1m-168 1h3m1 0h30m2 0h1m-35 1h1m1 0h25m1 0h1m1 0h3m1 0h1m-35 1h1m1 0h27m2 0h1m-34 1h1m3 0h2m1 0h19m1 0h2m1 0h2m-35 1h1m7 0h1m1 0h3m1 0h1m1 0h16m2 0h1m-31 1h1m9 0h14m1 0h1m-18 1h2m1 0h9m1 0h3m-16 1h2m1 0h4m2 0h2m1 0h2m12 0h1m-27 1h1m1 0h1m1 0h1m3 0h1m-6 1h1m5 0h1m1 0h1m2 0h1m-11 1h1m2 0h1m3 0h1m6 0h1m-18 1h1" stroke="#000" stroke-width="1" fill="none" transform="translate(0 .5)" shape-rendering="crispEdges"/>
<g font-size="12">
<text x="5" y="38.3" font-size="12.6" text-anchor="start" fill="#000">0,57</text>
<text x="243.8" y="38.2" font-size="12.6" text-anchor="end" fill="#000">0,14</text>
<text x="5" y="252.5" font-size="12.6" text-anchor="start" fill="#000">99,2</text>
<text x="244" y="252.3" font-size="12.6" text-anchor="end" fill="#000">0,12</text>
</g>
</g>
<g transform="translate(238.4 457.7)">
<use href="#ax"/>
<path d="M65 48h1m1 4h1m3 6h1m-5 4h1m7 1h1m-8 8h1m-2 1h1m5 5h1m-3 8h1m-1 3h1m-4 9h1m3 6h1m-6 3h1m2 0h1m2 4h1m21 5h1m-26 1h2m1 1h1m-10 1h1m4 0h1m9 1h1m-5 1h1m131 2h1m-143 2h1m3 0h1m111 1h1m-89 1h1m59 3h1m-84 2h1m115 1h1m-124 1h1m3 0h1m4 0h1m4 0h1m36 1h1m-38 1h1m2 0h1m102 0h1m-112 2h1m98 0h1m35 0h1m-131 1h1m-13 1h1m97 0h1m-89 1h1m113 0h1m-120 1h1m0 1h1m-13 1h1m15 0h1m-8 1h1m-12 1h1m7 0h1m11 0h1m-1 2h1m41 1h1m-49 1h1m-7 1h1m14 1h1m110 0h1m-126 1h1m133 0h1m-148 2h1m17 0h1m2 0h1m7 1h1m-21 1h1m10 0h1m121 0h1m-115 2h1m-17 1h1m3 0h1m4 0h1m8 2h1m79 0h1m-96 1h1m8 1h1m-19 1h1m5 1h1m16 0h1m-20 1h1m4 0h1m-11 1h1m19 0h1m4 0h1m-21 1h1m3 0h2m15 0h1m-25 1h1m12 0h1m-6 1h1m6 0h1m46 0h1m-60 1h1m4 0h1m-11 1h1m3 0h1m6 0h1m120 0h1m-124 1h1m2 0h1m1 0h1m65 1h1m-62 1h1m-19 1h1m8 0h1m1 0h2m1 0h1m-9 1h1m2 0h1m5 0h1m-8 1h1m6 0h1m8 0h1m-8 1h2m3 0h1m-14 1h1m7 0h1m122 0h1m-143 1h1m10 0h1m4 0h1m-11 1h1m7 0h2m12 0h1m-29 1h1m24 0h1m-10 1h2m2 0h1m-16 1h2m2 0h1m2 0h3m1 0h1m2 0h1m3 0h1m-11 1h1m1 0h1m2 0h1m2 0h2m-21 1h2m2 0h1m1 0h2m2 0h1m2 0h1m-10 1h1m2 0h1m2 0h1m1 0h2m1 0h1m5 0h1m-30 1h1m6 0h1m5 0h1m5 0h1m6 0h1m-17 1h1m1 0h1m2 0h2m1 0h2m1 0h1m6 0h1m5 0h1m-19 1h7m13 0h1m-26 1h1m2 0h1m2 0h1m1 0h3m1 0h1m-13 1h3m3 0h8m2 0h1m5 0h1m-22 1h3m1 0h7m4 0h1m-22 1h1m8 0h8m4 0h1m-28 1h1m4 0h1m4 0h1m3 0h1m2 0h7m1 0h3m2 0h1m-20 1h1m2 0h14m-19 1h1m1 0h2m1 0h1m1 0h9m1 0h2m1 0h1m-20 1h17m1 0h2m-20 1h17m1 0h2m-23 1h22m1 0h1m-29 1h3m1 0h25m1 0h2m9 0h1m-45 1h1m3 0h1m2 0h26m2 0h1m3 0h1m2 0h1m12 0h1m-56 1h1m1 0h1m1 0h1m1 0h28m1 0h1m-38 1h1m1 0h1m3 0h31m1 0h1m-42 1h1m7 0h33m3 0h3m-41 1h35m1 0h1m-37 1h1m1 0h33m1 0h1m1 0h2m-43 1h1m1 0h38m8 0h1m9 0h1m-66 1h1m3 0h1m2 0h3m1 0h36m3 0h1m20 0h1m15 0h1m-81 1h2m1 0h34m-35 1h35m3 0h2m2 0h2m49 0h1m39 0h1m-139 1h1m3 0h37m1 0h1m83 0h1m-125 1h40m81 0h1m-119 1h34m8 0h1m-44 1h34m1 0h1m3 0h1m-39 1h1m2 0h27m1 0h2m1 0h1m70 0h1m-105 1h30m2 0h1m1 0h1m-36 1h3m1 0h27m1 0h1m-35 1h1m3 0h5m1 0h23m1 0h2m-29 1h24m1 0h1m4 0h1m-34 1h1m3 0h21m2 0h1m-32 1h1m6 0h7m1 0h3m1 0h9m-21 1h1m2 0h5m1 0h7m1 0h1m1 0h2m-25 1h1m5 0h1m1 0h1m1 0h1m1 0h1m1 0h7m2 0h1m-12 1h1m3 0h1m1 0h1m-3 1h1m12 0h1m-32 4h1m17 0h1" stroke="#000" stroke-width="1" fill="none" transform="translate(0 .5)" shape-rendering="crispEdges"/>
<g font-size="12">
<text x="5" y="38.3" font-size="12.6" text-anchor="start" fill="#000">0,19</text>
<text x="243.8" y="38.2" font-size="12.6" text-anchor="end" fill="#000">0,028</text>
<text x="5" y="252.5" font-size="12.6" text-anchor="start" fill="#000">99,7</text>
<text x="244" y="252.3" font-size="12.6" text-anchor="end" fill="#000">0,071</text>
</g>
</g>
<g transform="translate(568.4 457.7)">
<use href="#ax"/>
<path d="M74 65h1m-10 32h1m5 4h1m-1 1h1m-5 1h1m-3 3h1m7 0h1m100 0h1m12 0h1m-115 1h1m151 0h1m7 0h1m-151 1h1m115 1h1m-24 1h1m40 0h1m2 0h1m-161 1h1m112 0h1m49 0h1m-162 1h1m9 0h2m1 0h1m6 0h1m123 0h1m23 0h1m-167 1h2m3 0h1m3 0h4m141 0h1m7 0h1m-165 1h1m1 0h1m1 0h1m3 0h2m2 0h1m2 0h2m13 0h1m83 0h1m12 0h1m11 0h1m11 0h1m12 0h1m2 0h1m-166 1h5m2 0h2m3 0h1m1 0h1m25 0h1m55 0h1m9 0h1m-116 1h1m6 0h1m2 0h3m2 0h1m2 0h2m2 0h1m1 0h1m90 0h2m15 0h1m23 0h1m8 0h1m-159 1h3m4 0h2m2 0h1m1 0h2m2 0h1m76 0h1m13 0h1m31 0h1m2 0h1m5 0h1m8 0h1m-159 1h1m1 0h4m1 0h2m1 0h3m4 0h1m5 0h1m65 0h1m45 0h1m1 0h1m13 0h1m20 0h1m-176 1h4m1 0h4m1 0h2m1 0h1m1 0h2m71 0h1m35 0h1m5 0h1m5 0h1m-139 1h1m6 0h1m1 0h1m3 0h1m3 0h1m4 0h1m59 0h1m42 0h2m12 0h1m13 0h1m12 0h1m14 0h1m-182 1h1m7 0h3m1 0h6m49 0h1m6 0h1m9 0h1m13 0h1m34 0h1m16 0h2m10 0h1m6 0h1m-168 1h1m2 0h1m2 0h1m1 0h3m2 0h3m2 0h1m54 0h1m2 0h1m2 0h1m1 0h1m22 0h1m23 0h1m-126 1h1m4 0h1m2 0h1m2 0h2m18 0h1m21 0h1m49 0h1m3 0h1m18 0h1m7 0h1m11 0h1m8 0h1m4 0h1m-158 1h4m1 0h2m1 0h2m3 0h1m1 0h2m51 0h1m42 0h2m27 0h1m-144 1h1m1 0h3m4 0h1m1 0h1m2 0h2m27 0h1m5 0h1m23 0h1m27 0h1m17 0h1m5 0h1m13 0h1m2 0h3m8 0h1m8 0h2m9 0h1m-176 1h1m1 0h4m1 0h1m1 0h2m1 0h1m1 0h6m61 0h1m23 0h1m7 0h1m6 0h1m1 0h1m12 0h2m4 0h2m1 0h1m1 0h1m-137 1h1m3 0h1m1 0h1m1 0h1m7 0h1m52 0h1m6 0h1m7 0h1m13 0h1m2 0h1m5 0h1m5 0h1m11 0h1m6 0h1m4 0h2m6 0h2m1 0h1m-158 1h1m3 0h1m2 0h1m1 0h1m3 0h1m9 0h1m9 0h1m13 0h1m21 0h1m18 0h1m7 0h2m7 0h2m4 0h1m3 0h1m10 0h1m3 0h1m3 0h1m2 0h1m2 0h2m14 0h1m5 0h1m1 0h1m2 0h1m1 0h1m-165 1h2m1 0h1m1 0h3m1 0h2m21 0h1m27 0h1m25 0h1m7 0h1m5 0h1m46 0h2m16 0h1m-166 1h1m2 0h2m1 0h1m1 0h3m17 0h1m37 0h1m12 0h1m7 0h1m5 0h1m13 0h1m13 0h1m4 0h1m5 0h1m9 0h1m14 0h1m1 0h1m4 0h1m6 0h1m-176 1h1m4 0h1m3 0h1m2 0h2m1 0h1m2 0h1m19 0h1m24 0h1m16 0h1m2 0h1m20 0h1m2 0h1m3 0h1m10 0h1m3 0h1m30 0h2m-162 1h2m1 0h1m1 0h2m2 0h2m3 0h4m5 0h2m22 0h1m27 0h1m10 0h1m15 0h1m3 0h1m6 0h1m14 0h1m17 0h1m9 0h1m8 0h1m1 0h1m-168 1h1m4 0h1m3 0h1m2 0h1m1 0h1m3 0h1m1 0h1m35 0h1m13 0h1m4 0h1m15 0h1m14 0h1m1 0h1m11 0h1m9 0h1m4 0h1m2 0h1m2 0h1m10 0h1m13 0h1m-166 1h1m1 0h2m1 0h5m1 0h5m1 0h1m4 0h1m9 0h1m6 0h1m2 0h1m16 0h1m4 0h1m4 0h1m10 0h1m2 0h1m2 0h1m2 0h1m8 0h1m4 0h1m1 0h1m9 0h2m20 0h1m3 0h2m6 0h1m6 0h2m2 0h1m4 0h1m4 0h1m3 0h1m3 0h1m1 0h1m-179 1h1m2 0h1m1 0h2m1 0h2m3 0h1m1 0h2m11 0h1m7 0h1m8 0h1m6 0h1m25 0h1m6 0h1m7 0h1m3 0h1m8 0h1m7 0h1m12 0h1m5 0h1m1 0h1m2 0h1m2 0h1m2 0h1m1 0h1m2 0h1m1 0h2m5 0h1m9 0h1m7 0h1m-179 1h1m2 0h2m2 0h1m1 0h1m1 0h2m1 0h2m5 0h1m35 0h1m9 0h1m13 0h1m7 0h1m16 0h1m16 0h1m1 0h1m1 0h1m3 0h1m4 0h1m11 0h1m2 0h3m4 0h2m18 0h1m-179 1h1m3 0h1m1 0h4m2 0h1m1 0h6m11 0h1m23 0h1m16 0h1m21 0h1m4 0h1m20 0h2m3 0h1m1 0h1m5 0h1m4 0h1m8 0h1m10 0h1m1 0h1m6 0h1m7 0h1m3 0h1m-178 1h1m3 0h3m2 0h1m1 0h1m2 0h3m12 0h1m5 0h1m9 0h1m15 0h1m9 0h1m15 0h1m11 0h1m11 0h1m9 0h1m2 0h1m6 0h1m1 0h1m7 0h1m5 0h1m5 0h1m4 0h1m5 0h1m4 0h1m-171 1h1m4 0h1m1 0h2m2 0h1m1 0h4m1 0h1m5 0h1m16 0h1m13 0h1m5 0h1m21 0h1m32 0h1m2 0h1m9 0h2m8 0h1m1 0h1m2 0h1m5 0h2m17 0h1m3 0h1m-171 1h2m1 0h3m1 0h3m1 0h1m5 0h1m12 0h1m4 0h1m6 0h1m2 0h1m13 0h1m21 0h1m2 0h1m4 0h1m1 0h1m14 0h1m1 0h3m3 0h1m3 0h1m1 0h1m3 0h3m4 0h1m5 0h1m1 0h1m10 0h2m1 0h1m5 0h2m5 0h1m2 0h1m5 0h1m-183 1h1m7 0h1m2 0h1m1 0h5m2 0h1m1 0h1m22 0h2m32 0h1m2 0h1m3 0h1m8 0h1m8 0h1m5 0h1m1 0h1m2 0h1m10 0h2m4 0h2m7 0h4m1 0h1m3 0h1m3 0h1m3 0h1m1 0h1m5 0h2m3 0h1m10 0h1m-179 1h1m4 0h2m2 0h2m1 0h1m1 0h1m1 0h1m1 0h1m31 0h1m31 0h1m1 0h1m3 0h1m1 0h1m1 0h1m9 0h1m1 0h1m2 0h1m9 0h1m5 0h1m9 0h1m6 0h1m1 0h1m1 0h2m5 0h1m2 0h1m4 0h1m1 0h1m4 0h2m6 0h2m-178 1h2m1 0h1m2 0h3m1 0h1m2 0h4m20 0h1m26 0h1m24 0h1m4 0h1m1 0h1m6 0h2m13 0h1m2 0h3m1 0h1m1 0h1m9 0h1m2 0h1m2 0h1m11 0h3m4 0h1m1 0h1m3 0h1m7 0h1m-178 1h1m1 0h1m2 0h1m1 0h2m3 0h3m2 0h1m1 0h2m2 0h1m14 0h1m28 0h1m2 0h1m4 0h1m8 0h1m11 0h1m1 0h1m9 0h2m2 0h1m8 0h1m4 0h2m1 0h1m3 0h1m3 0h1m3 0h1m1 0h1m4 0h1m2 0h1m2 0h2m2 0h3m3 0h2m15 0h1m4 0h1m-182 1h2m1 0h2m1 0h3m1 0h1m7 0h1m4 0h1m17 0h1m8 0h1m11 0h1m30 0h1m1 0h1m1 0h1m4 0h1m15 0h1m2 0h1m1 0h1m3 0h1m2 0h1m18 0h2m3 0h3m1 0h1m1 0h1m10 0h1m-176 1h1m1 0h2m1 0h4m2 0h1m2 0h1m2 0h1m22 0h1m7 0h1m11 0h1m15 0h1m10 0h3m18 0h1m2 0h2m13 0h1m5 0h1m3 0h1m1 0h3m1 0h2m6 0h1m5 0h1m20 0h2m-178 1h1m3 0h1m2 0h1m3 0h5m2 0h1m2 0h1m17 0h1m2 0h1m7 0h1m4 0h1m4 0h1m1 0h1m3 0h1m12 0h1m17 0h1m5 0h1m1 0h1m3 0h1m4 0h1m3 0h1m2 0h2m1 0h1m16 0h1m1 0h2m2 0h2m3 0h1m4 0h1m4 0h1m1 0h1m1 0h2m7 0h2m2 0h1m-178 1h1m2 0h2m3 0h3m1 0h3m2 0h2m17 0h1m5 0h1m2 0h1m3 0h1m1 0h1m22 0h1m9 0h1m5 0h1m2 0h1m8 0h2m2 0h1m6 0h1m2 0h1m3 0h1m5 0h1m1 0h1m9 0h1m2 0h1m4 0h1m6 0h3m1 0h2m1 0h3m4 0h1m1 0h1m3 0h1m-175 1h4m1 0h3m1 0h3m1 0h1m6 0h1m6 0h1m4 0h1m12 0h1m6 0h1m19 0h1m2 0h2m18 0h1m5 0h1m14 0h2m1 0h1m2 0h1m1 0h2m12 0h1m6 0h2m1 0h1m2 0h1m14 0h1m2 0h2m6 0h2m-178 1h1m2 0h1m2 0h1m1 0h4m1 0h1m6 0h2m15 0h2m1 0h1m14 0h1m19 0h1m8 0h1m6 0h1m1 0h1m3 0h1m15 0h2m9 0h1m3 0h1m8 0h1m8 0h1m1 0h2m3 0h1m5 0h1m-168 1h1m4 0h1m4 0h6m1 0h4m1 0h1m5 0h1m48 0h1m4 0h1m11 0h1m1 0h1m11 0h1m3 0h1m2 0h1m3 0h2m8 0h1m8 0h1m3 0h1m2 0h1m4 0h1m15 0h1m10 0h1m-171 1h5m1 0h8m3 0h1m17 0h2m33 0h2m2 0h1m6 0h1m17 0h1m8 0h3m6 0h3m3 0h2m3 0h2m5 0h1m3 0h1m3 0h1m1 0h1m2 0h1m7 0h1m2 0h2m3 0h3m-164 1h6m6 0h1m23 0h1m4 0h1m12 0h2m6 0h1m5 0h2m7 0h1m3 0h2m19 0h1m1 0h2m5 0h1m1 0h1m4 0h1m5 0h1m6 0h1m3 0h1m2 0h1m2 0h1m1 0h1m10 0h1m4 0h1m-164 1h1m3 0h1m3 0h2m1 0h1m1 0h1m1 0h1m1 0h1m1 0h2m3 0h1m9 0h1m1 0h1m16 0h1m27 0h1m1 0h1m5 0h1m22 0h1m2 0h1m1 0h2m7 0h1m8 0h1m5 0h3m2 0h3m3 0h4m4 0h1m10 0h1m20 0h1m-194 1h1m2 0h1m2 0h1m1 0h1m2 0h5m3 0h2m26 0h1m26 0h1m1 0h1m13 0h1m1 0h1m2 0h1m3 0h1m8 0h1m17 0h1m2 0h3m1 0h1m1 0h1m7 0h4m2 0h2m1 0h2m3 0h2m1 0h1m2 0h1m5 0h1m-170 1h1m4 0h1m1 0h1m1 0h2m1 0h6m1 0h1m27 0h1m11 0h2m15 0h1m4 0h1m13 0h1m3 0h1m10 0h1m1 0h1m2 0h1m6 0h3m3 0h1m2 0h2m1 0h1m1 0h1m5 0h1m1 0h3m3 0h1m3 0h3m2 0h1m2 0h1m7 0h1m7 0h1m-181 1h2m1 0h1m2 0h5m2 0h2m1 0h1m1 0h2m2 0h1m2 0h1m3 0h1m4 0h1m10 0h1m7 0h1m6 0h1m5 0h1m26 0h1m15 0h1m5 0h1m2 0h2m1 0h1m10 0h1m2 0h1m2 0h1m3 0h1m1 0h1m2 0h3m4 0h1m3 0h1m4 0h1m5 0h1m2 0h2m5 0h1m-179 1h1m1 0h1m2 0h1m1 0h1m1 0h3m1 0h3m2 0h3m1 0h1m9 0h1m37 0h1m9 0h1m13 0h1m8 0h1m10 0h1m10 0h1m6 0h1m1 0h1m2 0h1m1 0h1m1 0h2m4 0h1m1 0h1m3 0h1m2 0h2m2 0h2m4 0h1m3 0h1m1 0h3m-171 1h1m2 0h1m2 0h4m1 0h2m1 0h1m2 0h1m4 0h1m1 0h1m18 0h1m12 0h1m7 0h1m13 0h2m4 0h1m20 0h1m8 0h1m6 0h1m6 0h1m1 0h1m2 0h1m11 0h1m2 0h1m1 0h1m6 0h1m2 0h1m3 0h1m-168 1h1m2 0h1m2 0h3m2 0h8m30 0h1m54 0h1m16 0h1m5 0h2m5 0h2m2 0h2m1 0h1m2 0h1m1 0h3m1 0h1m14 0h1m-170 1h1m2 0h1m2 0h1m1 0h2m1 0h1m1 0h3m1 0h1m6 0h2m25 0h2m4 0h1m27 0h1m7 0h1m18 0h1m10 0h1m5 0h2m4 0h1m12 0h1m4 0h1m6 0h1m5 0h1m3 0h1m6 0h1m4 0h1m-174 1h3m3 0h5m1 0h2m2 0h1m18 0h1m41 0h1m8 0h1m5 0h1m2 0h2m14 0h1m1 0h1m3 0h1m10 0h1m1 0h1m1 0h1m2 0h1m10 0h2m1 0h1m21 0h1m3 0h1m-183 1h1m2 0h1m1 0h1m8 0h6m1 0h2m10 0h1m10 0h1m14 0h2m10 0h1m9 0h1m11 0h1m2 0h1m4 0h2m1 0h2m10 0h1m3 0h1m4 0h2m1 0h1m1 0h4m3 0h1m7 0h1m3 0h1m3 0h1m1 0h2m2 0h2m9 0h1m-163 1h1m1 0h5m1 0h2m2 0h1m19 0h1m10 0h1m7 0h1m19 0h1m6 0h1m4 0h1m8 0h1m5 0h1m6 0h1m1 0h1m2 0h1m9 0h1m2 0h1m4 0h1m6 0h1m-140 1h2m2 0h1m1 0h2m1 0h4m2 0h1m25 0h2m23 0h3m23 0h1m13 0h1m4 0h1m10 0h1m2 0h1m2 0h1m1 0h2m7 0h1m3 0h1m2 0h1m6 0h1m2 0h2m11 0h1m5 0h1m-173 1h1m3 0h1m1 0h4m2 0h2m25 0h1m12 0h1m2 0h1m7 0h2m28 0h1m6 0h1m5 0h1m4 0h2m9 0h1m11 0h1m1 0h1m5 0h1m3 0h1m4 0h1m2 0h1m4 0h2m2 0h1m4 0h1m1 0h1m-179 1h1m6 0h1m1 0h8m2 0h2m1 0h1m21 0h1m8 0h1m15 0h1m8 0h2m13 0h1m5 0h1m3 0h1m2 0h1m3 0h1m4 0h2m1 0h1m1 0h1m4 0h1m1 0h1m10 0h1m11 0h1m3 0h1m6 0h1m-157 1h2m2 0h2m2 0h1m1 0h1m2 0h1m2 0h2m3 0h1m10 0h1m1 0h1m5 0h1m6 0h1m38 0h1m22 0h1m21 0h1m5 0h1m5 0h1m1 0h1m2 0h1m12 0h1m4 0h1m-171 1h1m2 0h1m7 0h3m2 0h1m2 0h3m1 0h1m2 0h1m9 0h1m4 0h1m1 0h1m31 0h1m52 0h3m10 0h2m12 0h1m18 0h1m4 0h2m-177 1h2m3 0h1m3 0h1m1 0h1m1 0h1m3 0h1m3 0h2m15 0h1m8 0h1m25 0h1m3 0h1m45 0h1m1 0h1m6 0h1m4 0h1m4 0h1m2 0h1m9 0h1m15 0h1m1 0h1m-177 1h1m2 0h1m1 0h1m1 0h2m2 0h7m1 0h1m7 0h1m6 0h1m1 0h1m26 0h1m8 0h1m33 0h1m27 0h1m5 0h1m1 0h1m6 0h1m25 0h1m4 0h1m-174 1h7m1 0h1m6 0h1m16 0h1m22 0h1m2 0h1m2 0h1m14 0h1m13 0h1m5 0h1m4 0h1m11 0h1m14 0h1m10 0h1m4 0h1m1 0h1m4 0h1m2 0h1m5 0h1m-166 1h1m2 0h1m1 0h5m1 0h6m7 0h1m21 0h1m18 0h1m9 0h1m11 0h1m8 0h1m4 0h1m12 0h1m8 0h2m1 0h1m20 0h1m2 0h2m2 0h1m2 0h2m4 0h1m-165 1h1m4 0h1m1 0h2m1 0h4m4 0h1m9 0h1m20 0h1m2 0h1m21 0h2m42 0h1m7 0h1m8 0h1m9 0h1m1 0h1m9 0h1m3 0h1m9 0h1m-171 1h1m2 0h2m1 0h2m2 0h1m1 0h5m3 0h1m12 0h1m33 0h1m2 0h2m5 0h1m7 0h1m6 0h1m5 0h1m28 0h1m18 0h1m5 0h2m1 0h1m6 0h1m7 0h1m2 0h1m-175 1h1m3 0h6m1 0h3m2 0h1m4 0h1m6 0h1m14 0h1m57 0h1m9 0h1m4 0h1m5 0h1m11 0h1m13 0h1m5 0h1m6 0h1m17 0h1m-180 1h2m3 0h3m2 0h1m6 0h1m1 0h2m56 0h1m7 0h1m14 0h1m23 0h1m4 0h3m15 0h1m7 0h1m4 0h1m14 0h1m-176 1h1m3 0h4m1 0h2m3 0h2m1 0h1m2 0h1m2 0h1m33 0h1m27 0h1m19 0h1m23 0h1m44 0h1m-176 1h1m3 0h3m1 0h2m2 0h1m1 0h1m1 0h1m1 0h1m1 0h1m3 0h2m75 0h1m8 0h1m7 0h1m4 0h1m1 0h1m1 0h1m5 0h1m4 0h1m12 0h1m28 0h1m6 0h1m-185 1h1m4 0h2m1 0h6m1 0h1m1 0h1m53 0h1m18 0h1m33 0h1m1 0h1m5 0h1m3 0h1m7 0h1m10 0h1m-166 1h1m1 0h1m2 0h1m1 0h1m9 0h2m1 0h5m1 0h1m64 0h1m49 0h1m10 0h1m7 0h2m-146 1h1m1 0h1m4 0h4m2 0h1m30 0h1m10 0h1m43 0h1m11 0h1m1 0h1m2 0h2m9 0h1m11 0h1m10 0h1m9 0h1m5 0h1m-174 1h1m1 0h1m1 0h12m5 0h1m9 0h1m16 0h1m17 0h2m63 0h1m12 0h1m10 0h1m6 0h1m-169 1h1m6 0h2m1 0h1m1 0h2m3 0h5m1 0h2m5 0h1m42 0h1m3 0h1m19 0h1m4 0h1m18 0h1m20 0h1m16 0h1m-161 1h1m8 0h6m2 0h4m1 0h1m1 0h1m23 0h1m8 0h1m5 0h1m39 0h1m31 0h2m9 0h2m-140 1h1m2 0h9m1 0h4m1 0h1m32 0h1m57 0h1m4 0h1m19 0h1m15 0h1m3 0h1m6 0h2m-161 1h5m1 0h1m1 0h4m1 0h1m1 0h1m16 0h1m64 0h1m29 0h1m9 0h1m13 0h1m13 0h1m-168 1h2m2 0h1m2 0h7m1 0h2m2 0h1m7 0h1m118 0h1m12 0h1m-163 1h1m2 0h2m1 0h5m1 0h4m1 0h3m2 0h1m4 0h1m1 0h1m10 0h1m54 0h1m26 0h1m10 0h1m37 0h1m-174 1h1m2 0h2m1 0h1m2 0h6m1 0h5m5 0h1m108 0h1m18 0h1m-154 1h1m2 0h4m1 0h5m1 0h4m1 0h3m3 0h1m49 0h1m6 0h1m28 0h1m66 0h1m-181 1h1m5 0h9m2 0h6m2 0h1m1 0h1m1 0h1m128 0h1m-148 1h12m1 0h2m12 0h1m122 0h1m10 0h1m-176 1h1m6 0h2m1 0h15m1 0h3m1 0h1m14 0h1m50 0h1m57 0h1m5 0h1m1 0h1m9 0h1m-167 1h1m1 0h1m1 0h2m1 0h18m22 0h1m79 0h1m-128 1h20m2 0h1m6 0h1m47 0h1m51 0h1m-141 1h1m11 0h2m1 0h1m1 0h1m1 0h13m3 0h1m130 0h1m5 0h1m9 0h1m-168 1h1m1 0h4m1 0h8m1 0h3m20 0h1m3 0h1m13 0h1m2 0h1m23 0h1m31 0h1m23 0h1m24 0h1m-168 1h1m1 0h4m1 0h1m1 0h3m1 0h7m10 0h1m3 0h1m12 0h1m23 0h1m9 0h1m11 0h1m-96 1h23m8 0h1m2 0h1m14 0h1m2 0h1m80 0h1m-136 1h2m1 0h3m1 0h19m1 0h2m6 0h2m7 0h1m9 0h1m1 0h1m5 0h1m6 0h1m67 0h1m5 0h1m-142 1h1m2 0h23m5 0h1m1 0h1m7 0h1m27 0h1m95 0h1m-170 1h1m1 0h28m10 0h2m31 0h1m20 0h1m7 0h1m16 0h1m4 0h1m9 0h1m8 0h1m17 0h1m-164 1h1m3 0h21m1 0h7m6 0h2m4 0h1m5 0h1m6 0h1m4 0h1m49 0h1m-117 1h2m2 0h1m1 0h32m5 0h3m2 0h1m2 0h1m1 0h1m5 0h2m-59 1h2m1 0h31m3 0h1m2 0h4m3 0h2m4 0h1m1 0h1m21 0h1m70 0h1m15 0h1m-165 1h34m1 0h1m3 0h2m2 0h1m4 0h1m6 0h1m4 0h1m19 0h1m20 0h1m-104 1h2m1 0h33m5 0h2m2 0h1m1 0h4m2 0h1m12 0h1m-68 1h3m1 0h1m1 0h33m11 0h1m1 0h1m3 0h1m17 0h1m73 0h1m-149 1h1m2 0h36m3 0h3m1 0h1m18 0h1m2 0h1m4 0h1m23 0h1m58 0h1m-156 1h39m1 0h1m3 0h1m6 0h1m11 0h1m12 0h1m7 0h1m21 0h1m18 0h1m5 0h1m38 0h1m7 0h1m-181 1h1m1 0h38m2 0h1m6 0h1m9 0h1m4 0h1m4 0h1m46 0h1m-117 1h1m2 0h35m1 0h1m3 0h2m2 0h1m1 0h1m72 0h1m6 0h1m8 0h1m-141 1h1m1 0h38m1 0h1m3 0h1m1 0h2m29 0h1m68 0h1m-145 1h2m2 0h31m1 0h2m11 0h1m21 0h1m35 0h1m15 0h1m24 0h1m-148 1h1m1 0h34m1 0h1m5 0h1m28 0h1m56 0h1m-131 1h1m1 0h1m1 0h33m2 0h1m132 0h1m-171 1h37m78 0h1m-112 1h29m1 0h2m-37 1h1m1 0h2m1 0h28m-27 1h25m2 0h1m53 0h1m-88 1h1m1 0h1m2 0h1m1 0h22m1 0h1m1 0h1m2 0h1m-39 1h1m10 0h6m1 0h2m1 0h9m2 0h1m2 0h2m-27 1h1m2 0h1m1 0h1m1 0h9m1 0h2m2 0h1m-29 1h1m10 0h2m3 0h2m1 0h3m1 0h1m1 0h1m1 0h1m1 0h1m-19 1h1m2 0h2m2 0h1m5 0h1m-17 1h1m2 0h1m4 0h1m10 0h1m-13 1h1m4 0h1m-18 1h1m15 0h1m2 2h1m2 0h1" stroke="#000" stroke-width="1" fill="none" transform="translate(0 .5)" shape-rendering="crispEdges"/>
<g font-size="12">
<text x="5" y="38.3" font-size="12.6" text-anchor="start" fill="#000">1,14</text>
<text x="243.8" y="38.2" font-size="12.6" text-anchor="end" fill="#000">1,52</text>
<text x="5" y="252.5" font-size="12.6" text-anchor="start" fill="#000">97,1</text>
<text x="244" y="252.3" font-size="12.6" text-anchor="end" fill="#000">0,20</text>
</g>
</g>
<g transform="translate(900.5 457.7)">
<use href="#ax"/>
<path d="M72 83h1m-2 7h1m-5 3h1m3 3h1m-1 5h1m-4 2h2m0 5h2m150 1h1m-154 1h1m5 0h1m-13 1h1m135 0h1m5 0h1m-139 1h1m104 0h1m41 0h1m-151 1h3m1 0h7m11 0h1m29 0h1m70 0h1m34 0h1m-161 1h2m11 0h1m97 0h1m41 0h1m-153 1h2m4 0h2m1 0h2m1 0h1m120 0h1m-137 1h1m4 0h1m3 0h1m1 0h1m1 0h1m1 0h1m3 0h1m48 0h1m92 0h1m-159 1h1m5 0h1m1 0h1m1 0h2m1 0h2m4 0h3m107 0h1m-132 1h1m4 0h2m2 0h1m2 0h2m2 0h1m3 0h2m144 0h1m-166 1h1m1 0h1m2 0h1m1 0h2m1 0h1m1 0h2m1 0h2m16 0h1m110 0h1m-149 1h1m3 0h2m2 0h2m1 0h5m1 0h1m2 0h1m91 0h1m7 0h1m1 0h1m23 0h1m28 0h1m-170 1h1m1 0h1m3 0h1m1 0h2m2 0h1m52 0h1m74 0h1m1 0h1m5 0h1m-151 1h1m2 0h2m4 0h1m3 0h1m84 0h1m19 0h1m7 0h1m12 0h1m3 0h1m-148 1h1m5 0h2m1 0h4m1 0h2m1 0h1m1 0h2m51 0h1m42 0h1m44 0h1m-161 1h1m1 0h1m1 0h1m4 0h1m1 0h1m2 0h1m5 0h1m100 0h1m9 0h1m6 0h1m6 0h1m9 0h1m-152 1h1m2 0h1m1 0h1m1 0h5m4 0h1m65 0h1m-80 1h2m1 0h5m43 0h1m20 0h1m63 0h1m9 0h1m11 0h1m-162 1h1m1 0h2m1 0h7m2 0h1m2 0h1m66 0h1m13 0h1m45 0h1m-144 1h1m2 0h1m1 0h2m2 0h4m5 0h2m20 0h1m87 0h1m8 0h1m10 0h1m8 0h1m-167 1h1m3 0h1m4 0h2m2 0h1m1 0h4m1 0h1m1 0h1m4 0h1m3 0h1m76 0h1m1 0h1m10 0h1m16 0h2m2 0h1m4 0h1m5 0h1m12 0h1m2 0h1m-170 1h1m2 0h1m1 0h1m2 0h2m1 0h1m1 0h1m1 0h2m92 0h1m17 0h1m-121 1h2m1 0h1m2 0h4m1 0h1m1 0h3m1 0h2m10 0h1m39 0h1m50 0h1m13 0h1m24 0h1m-158 1h2m3 0h1m3 0h1m9 0h1m7 0h1m58 0h1m17 0h1m26 0h4m26 0h1m1 0h1m-163 1h3m3 0h1m7 0h1m24 0h1m16 0h1m14 0h1m4 0h1m15 0h1m19 0h1m52 0h1m-168 1h1m3 0h1m2 0h1m2 0h3m2 0h1m2 0h1m33 0h1m16 0h1m64 0h1m28 0h1m-170 1h1m8 0h1m1 0h1m1 0h2m1 0h1m1 0h3m3 0h1m112 0h1m4 0h1m11 0h1m-149 1h1m2 0h1m1 0h2m2 0h4m74 0h1m22 0h1m2 0h1m32 0h1m6 0h1m2 0h1m-160 1h1m3 0h1m3 0h2m2 0h1m4 0h1m2 0h1m32 0h1m21 0h1m3 0h1m36 0h1m16 0h1m9 0h1m1 0h1m4 0h1m4 0h1m5 0h1m4 0h1m-162 1h2m1 0h2m3 0h3m1 0h3m1 0h1m3 0h1m22 0h1m9 0h1m19 0h1m36 0h1m6 0h1m9 0h1m24 0h1m8 0h1m-166 1h1m3 0h3m2 0h2m2 0h5m6 0h1m1 0h1m3 0h1m16 0h1m32 0h1m12 0h1m16 0h1m11 0h1m1 0h1m15 0h1m-144 1h1m3 0h1m1 0h1m2 0h1m2 0h2m2 0h1m2 0h1m4 0h1m42 0h1m4 0h1m13 0h1m17 0h1m26 0h1m7 0h1m10 0h1m4 0h1m2 0h1m-156 1h1m2 0h1m2 0h1m1 0h2m1 0h1m2 0h1m3 0h1m1 0h1m1 0h1m16 0h1m29 0h1m45 0h1m8 0h1m15 0h1m2 0h1m4 0h1m9 0h2m1 0h2m3 0h1m-162 1h2m3 0h1m3 0h3m1 0h1m1 0h1m49 0h1m43 0h1m5 0h1m32 0h1m3 0h1m5 0h1m-161 1h1m3 0h2m2 0h2m1 0h1m5 0h1m1 0h1m9 0h1m23 0h1m6 0h1m61 0h2m9 0h1m5 0h2m-143 1h2m1 0h1m1 0h5m2 0h4m1 0h1m1 0h1m19 0h1m18 0h1m13 0h1m23 0h1m13 0h1m21 0h1m13 0h1m3 0h2m9 0h1m-161 1h1m1 0h1m1 0h1m1 0h2m1 0h1m1 0h2m2 0h1m4 0h1m10 0h1m13 0h1m53 0h1m15 0h1m7 0h1m1 0h2m3 0h1m7 0h1m9 0h1m1 0h1m3 0h1m-160 1h1m3 0h1m1 0h1m1 0h2m3 0h7m38 0h1m3 0h1m1 0h1m37 0h1m10 0h1m2 0h1m8 0h1m4 0h1m8 0h1m4 0h1m4 0h1m12 0h1m-161 1h2m2 0h1m2 0h4m1 0h3m5 0h1m10 0h1m25 0h1m26 0h1m4 0h2m25 0h1m2 0h1m3 0h1m9 0h1m5 0h1m12 0h1m1 0h1m7 0h1m2 0h1m2 0h1m-166 1h1m2 0h1m1 0h5m1 0h3m2 0h1m17 0h1m6 0h1m12 0h1m7 0h1m11 0h1m17 0h1m51 0h1m4 0h1m6 0h1m10 0h1m-165 1h3m1 0h2m1 0h3m1 0h2m5 0h1m44 0h1m18 0h1m17 0h1m12 0h1m10 0h1m3 0h1m2 0h1m3 0h1m7 0h1m-151 1h1m3 0h1m2 0h2m1 0h2m2 0h1m2 0h3m18 0h1m9 0h1m52 0h1m6 0h1m18 0h1m1 0h1m3 0h1m3 0h1m3 0h1m2 0h2m8 0h2m-153 1h2m3 0h3m1 0h7m48 0h1m31 0h1m3 0h1m27 0h2m10 0h1m3 0h1m7 0h2m1 0h1m-153 1h1m1 0h2m2 0h3m1 0h1m1 0h2m6 0h1m28 0h1m24 0h1m11 0h2m3 0h2m8 0h1m27 0h1m2 0h1m3 0h1m8 0h1m-151 1h2m4 0h1m2 0h4m1 0h1m1 0h1m1 0h2m1 0h1m24 0h1m6 0h1m7 0h2m22 0h1m15 0h1m20 0h1m6 0h1m7 0h1m20 0h1m2 0h1m11 0h1m-172 1h2m1 0h1m1 0h1m1 0h2m3 0h1m2 0h2m13 0h1m1 0h1m2 0h1m32 0h1m33 0h1m10 0h1m2 0h1m3 0h2m1 0h1m1 0h1m4 0h2m-129 1h1m2 0h1m1 0h1m3 0h2m41 0h1m1 0h1m24 0h1m6 0h1m8 0h1m4 0h1m5 0h1m37 0h1m1 0h1m2 0h1m4 0h1m6 0h1m-163 1h1m3 0h2m1 0h2m1 0h2m15 0h1m19 0h1m12 0h1m17 0h1m40 0h1m19 0h1m-138 1h1m1 0h5m1 0h1m1 0h2m1 0h2m7 0h1m60 0h1m8 0h1m5 0h1m12 0h1m24 0h1m2 0h2m1 0h1m15 0h1m-168 1h1m2 0h1m2 0h1m3 0h1m1 0h2m1 0h3m2 0h4m2 0h1m17 0h1m12 0h1m11 0h1m59 0h1m23 0h1m4 0h2m-153 1h2m1 0h1m1 0h5m1 0h1m2 0h1m1 0h1m37 0h1m23 0h1m31 0h1m14 0h1m6 0h1m4 0h1m-146 1h1m5 0h1m1 0h2m3 0h1m2 0h3m2 0h1m4 0h1m12 0h1m45 0h1m6 0h1m15 0h1m9 0h1m12 0h1m17 0h1m3 0h1m8 0h1m16 0h1m-177 1h1m6 0h1m2 0h1m1 0h2m1 0h1m1 0h1m35 0h1m6 0h1m53 0h1m8 0h1m37 0h1m7 0h1m1 0h1m-172 1h1m3 0h1m1 0h3m1 0h3m4 0h1m3 0h1m42 0h1m22 0h2m5 0h1m50 0h1m14 0h1m-158 1h1m4 0h4m4 0h1m4 0h2m33 0h1m15 0h1m15 0h1m11 0h1m11 0h1m7 0h1m4 0h1m8 0h1m22 0h1m8 0h1m-165 1h1m4 0h2m1 0h2m1 0h1m1 0h1m2 0h1m1 0h1m1 0h1m41 0h1m32 0h1m22 0h1m5 0h1m7 0h1m14 0h1m13 0h1m-165 1h1m3 0h1m3 0h2m1 0h1m3 0h4m2 0h2m45 0h1m12 0h1m4 0h2m19 0h1m11 0h1m9 0h1m33 0h2m-167 1h1m9 0h1m4 0h2m5 0h1m3 0h1m3 0h1m95 0h1m7 0h1m14 0h1m3 0h1m8 0h1m3 0h2m-163 1h1m3 0h1m1 0h1m1 0h2m1 0h2m1 0h1m50 0h1m2 0h1m5 0h1m40 0h1m7 0h1m4 0h1m1 0h1m24 0h1m-160 1h1m5 0h1m1 0h1m2 0h2m2 0h4m34 0h1m77 0h1m7 0h1m3 0h1m2 0h1m12 0h1m10 0h1m-167 1h1m3 0h5m2 0h2m1 0h2m2 0h1m29 0h1m29 0h1m28 0h1m6 0h1m1 0h1m5 0h1m24 0h1m8 0h1m3 0h1m-162 1h1m1 0h1m4 0h4m1 0h1m2 0h1m3 0h1m4 0h1m44 0h1m7 0h1m19 0h1m13 0h2m6 0h2m15 0h1m27 0h1m-164 1h2m2 0h1m2 0h2m1 0h7m1 0h1m123 0h1m4 0h1m-144 1h1m3 0h1m1 0h1m1 0h2m2 0h2m1 0h1m21 0h1m27 0h1m22 0h1m57 0h1m11 0h1m-164 1h2m2 0h2m4 0h1m3 0h1m2 0h1m24 0h2m78 0h1m6 0h1m13 0h1m8 0h1m7 0h1m-164 1h1m5 0h1m4 0h3m1 0h3m1 0h1m-19 1h1m3 0h1m1 0h1m2 0h3m1 0h2m4 0h2m2 0h1m5 0h1m104 0h1m7 0h1m7 0h1m7 0h1m-156 1h2m1 0h3m3 0h5m56 0h1m19 0h1m37 0h1m13 0h1m-143 1h1m1 0h1m6 0h1m1 0h1m5 0h1m2 0h1m79 0h1m11 0h1m31 0h1m8 0h1m-148 1h2m1 0h6m1 0h1m2 0h2m50 0h1m35 0h1m13 0h1m-122 1h1m3 0h1m1 0h2m6 0h1m1 0h3m55 0h1m1 0h1m58 0h2m4 0h1m-139 1h1m2 0h6m1 0h1m1 0h1m2 0h1m124 0h1m10 0h1m-157 1h1m4 0h3m2 0h3m1 0h1m4 0h1m52 0h1m16 0h1m58 0h1m-146 1h1m1 0h1m1 0h2m3 0h2m1 0h6m4 0h1m22 0h1m27 0h1m65 0h1m3 0h2m-148 1h1m2 0h1m1 0h1m2 0h2m1 0h6m1 0h1m1 0h1m-17 1h1m3 0h1m1 0h3m1 0h1m1 0h2m1 0h2m33 0h1m34 0h1m14 0h1m23 0h1m24 0h1m-155 1h1m3 0h2m1 0h3m2 0h1m2 0h2m1 0h3m1 0h1m5 0h1m1 0h1m125 0h1m-153 1h1m1 0h1m1 0h1m2 0h1m1 0h4m1 0h2m21 0h1m103 0h1m-139 1h2m1 0h3m1 0h1m2 0h2m1 0h1m2 0h1m-23 1h1m1 0h1m2 0h1m2 0h5m1 0h4m2 0h1m1 0h2m-20 1h2m1 0h2m2 0h1m1 0h7m98 0h1m16 0h1m-133 1h1m1 0h1m2 0h9m1 0h2m1 0h1m2 0h1m1 0h1m-32 1h1m3 0h1m3 0h2m1 0h2m1 0h7m1 0h2m1 0h2m2 0h1m1 0h1m40 0h1m-66 1h1m4 0h6m1 0h1m1 0h4m33 0h1m97 0h1m-150 1h1m2 0h14m2 0h1m1 0h1m-26 1h1m2 0h1m1 0h1m1 0h11m1 0h2m108 0h1m10 0h1m9 0h1m-146 1h16m1 0h3m-20 1h1m1 0h12m1 0h5m27 0h1m27 0h1m18 0h1m23 0h1m-118 1h16m3 0h2m51 0h1m81 0h1m-160 1h1m4 0h2m1 0h1m1 0h7m1 0h3m1 0h1m1 0h1m2 0h1m20 0h1m20 0h1m-68 1h1m3 0h11m1 0h4m1 0h5m8 0h1m3 0h1m2 0h1m121 0h1m-159 1h16m13 0h1m13 0h2m12 0h1m25 0h1m-90 1h17m1 0h6m1 0h1m6 0h1m44 0h1m53 0h1m-135 1h27m1 0h2m1 0h1m3 0h1m7 0h1m7 0h1m105 0h1m14 0h1m3 0h1m-178 1h1m1 0h1m1 0h27m2 0h1m2 0h1m6 0h1m5 0h2m4 0h1m69 0h1m-134 1h1m6 0h29m1 0h1m1 0h2m7 0h1m2 0h1m7 0h1m-57 1h1m3 0h34m23 0h1m84 0h1m33 0h1m-181 1h1m3 0h33m4 0h1m48 0h1m33 0h1m2 0h1m-128 1h1m2 0h3m1 0h30m4 0h1m1 0h1m13 0h1m3 0h1m42 0h1m-102 1h31m1 0h1m2 0h1m4 0h1m55 0h1m-98 1h38m5 0h1m5 0h2m2 0h1m108 0h1m6 0h1m-172 1h37m1 0h3m84 0h1m-125 1h38m5 0h1m22 0h1m89 0h1m-160 1h1m2 0h37m1 0h1m3 0h2m3 0h1m3 0h1m49 0h1m-104 1h3m1 0h2m1 0h32m1 0h1m3 0h1m21 0h1m110 0h1m-180 1h1m3 0h2m1 0h33m2 0h1m2 0h1m2 0h1m19 0h1m44 0h1m-112 1h2m1 0h35m2 0h2m73 0h1m-118 1h3m1 0h1m1 0h33m2 0h1m-40 1h1m1 0h2m1 0h30m1 0h1m1 0h1m-37 1h1m1 0h1m1 0h30m-34 1h1m1 0h30m-33 1h1m2 0h1m2 0h24m2 0h2m-33 1h1m1 0h1m3 0h20m1 0h2m-24 1h6m1 0h12m1 0h2m15 0h1m-38 1h2m1 0h4m1 0h10m1 0h6m-19 1h4m1 0h3m1 0h2m1 0h3m-19 1h1m2 0h2m1 0h2m4 0h1m5 0h1m3 0h1m-23 1h1m2 0h1m4 0h1m1 0h2m-10 1h1m3 0h1m1 0h1m1 0h2m-3 1h1m-10 4h1" stroke="#000" stroke-width="1" fill="none" transform="translate(0 .5)" shape-rendering="crispEdges"/>
<g font-size="12">
<text x="5" y="38.3" font-size="12.6" text-anchor="start" fill="#000">0,90</text>
<text x="243.8" y="38.2" font-size="12.6" text-anchor="end" fill="#000">0,55</text>
<text x="5" y="252.5" font-size="12.6" text-anchor="start" fill="#000">98,4</text>
<text x="244" y="252.3" font-size="12.6" text-anchor="end" fill="#000">0,10</text>
</g>
</g>
<g transform="translate(1239.5 457.7)">
<use href="#ax"/>
<path d="M75 66h1m1 4h1m-10 19h1m8 4h1m-8 7h1m-8 2h1m11 1h1m5 0h1m144 3h1m-167 3h1m57 0h1m62 0h1m-110 1h1m5 0h1m86 0h1m4 0h1m-102 1h1m81 0h1m66 0h1m-153 1h1m6 0h1m-10 1h2m1 0h2m1 0h1m2 0h1m3 0h1m6 0h1m-26 1h2m3 0h1m1 0h6m4 0h1m39 0h1m39 0h1m36 0h1m-129 1h1m2 0h1m1 0h5m1 0h1m29 0h1m-49 1h1m1 0h3m2 0h1m1 0h3m1 0h2m5 0h1m21 0h1m-39 1h1m2 0h1m5 0h2m3 0h1m76 0h1m27 0h1m38 0h1m-152 1h3m3 0h1m16 0h1m110 0h1m-139 1h2m1 0h1m2 0h1m2 0h3m3 0h2m94 0h1m25 0h1m-142 1h3m2 0h1m2 0h1m1 0h1m1 0h1m1 0h1m1 0h2m61 0h1m32 0h1m6 0h1m-115 1h1m3 0h1m1 0h4m7 0h1m84 0h1m17 0h1m18 0h1m-144 1h1m2 0h4m2 0h1m1 0h1m4 0h1m1 0h1m11 0h1m45 0h1m11 0h1m16 0h1m16 0h1m10 0h1m-128 1h2m3 0h1m111 0h1m-125 1h1m3 0h1m1 0h1m1 0h4m1 0h2m1 0h1m58 0h1m18 0h1m12 0h1m23 0h1m1 0h1m-137 1h1m6 0h2m9 0h1m1 0h2m5 0h1m85 0h1m4 0h1m24 0h1m2 0h1m17 0h1m8 0h1m2 0h1m-177 1h1m1 0h1m3 0h2m3 0h1m1 0h1m1 0h2m6 0h1m37 0h1m70 0h1m38 0h1m-169 1h1m7 0h2m1 0h2m2 0h3m2 0h1m39 0h1m12 0h1m6 0h1m40 0h1m10 0h1m8 0h1m11 0h1m1 0h1m7 0h1m-165 1h1m6 0h6m1 0h1m1 0h3m1 0h1m2 0h1m26 0h1m71 0h1m7 0h1m17 0h1m6 0h1m1 0h1m-154 1h1m1 0h1m3 0h1m3 0h2m2 0h2m41 0h1m12 0h1m16 0h1m4 0h1m32 0h1m13 0h1m9 0h1m9 0h1m-165 1h2m10 0h1m1 0h1m2 0h1m19 0h1m6 0h1m9 0h1m68 0h1m45 0h1m-171 1h2m1 0h1m2 0h2m5 0h1m4 0h2m2 0h1m10 0h1m13 0h1m14 0h1m4 0h1m14 0h1m30 0h1m28 0h1m-141 1h1m4 0h1m1 0h1m1 0h4m1 0h1m20 0h1m92 0h1m2 0h1m13 0h1m-144 1h3m1 0h1m1 0h2m1 0h1m5 0h1m1 0h2m22 0h1m65 0h1m28 0h2m3 0h1m1 0h1m-142 1h1m2 0h3m1 0h1m3 0h1m6 0h1m92 0h1m7 0h1m17 0h1m10 0h1m5 0h1m4 0h1m3 0h1m-169 1h1m4 0h1m3 0h3m4 0h1m3 0h1m5 0h1m10 0h1m2 0h1m12 0h1m12 0h1m1 0h1m21 0h1m38 0h1m5 0h1m23 0h1m-155 1h1m2 0h1m4 0h1m4 0h3m2 0h1m28 0h1m10 0h1m8 0h1m24 0h1m8 0h1m32 0h1m10 0h1m8 0h2m3 0h1m10 0h1m-173 1h1m2 0h1m1 0h2m1 0h1m1 0h3m1 0h3m59 0h1m4 0h1m16 0h1m15 0h1m-122 1h1m7 0h4m3 0h1m1 0h6m29 0h1m17 0h1m31 0h1m1 0h1m17 0h1m42 0h1m2 0h1m-160 1h1m2 0h6m3 0h1m30 0h1m24 0h1m9 0h1m41 0h1m21 0h1m9 0h1m-153 1h1m2 0h2m2 0h1m1 0h1m18 0h1m13 0h2m3 0h1m4 0h1m9 0h1m26 0h1m24 0h1m1 0h1m1 0h1m9 0h1m1 0h1m24 0h1m13 0h1m1 0h1m-174 1h2m1 0h1m1 0h1m1 0h1m1 0h4m1 0h1m5 0h1m11 0h2m4 0h1m8 0h1m62 0h1m26 0h1m21 0h1m-159 1h2m1 0h3m3 0h1m1 0h2m1 0h1m53 0h1m10 0h1m6 0h1m24 0h1m6 0h1m5 0h1m18 0h1m1 0h1m5 0h1m9 0h1m2 0h2m-170 1h1m6 0h1m4 0h1m4 0h2m12 0h1m1 0h1m36 0h1m22 0h1m45 0h1m3 0h1m5 0h1m1 0h1m3 0h1m4 0h1m-153 1h2m2 0h4m1 0h3m20 0h1m43 0h1m29 0h1m11 0h1m7 0h1m4 0h1m12 0h1m3 0h2m-155 1h1m5 0h1m3 0h2m2 0h1m3 0h1m2 0h1m32 0h1m8 0h1m25 0h1m20 0h1m6 0h2m1 0h1m19 0h1m2 0h1m23 0h1m-169 1h1m3 0h1m3 0h1m3 0h4m1 0h1m26 0h1m12 0h1m37 0h1m2 0h1m20 0h1m4 0h1m12 0h2m2 0h1m-149 1h1m6 0h1m3 0h1m2 0h3m3 0h3m61 0h1m25 0h1m3 0h1m38 0h2m10 0h1m2 0h1m6 0h1m2 0h1m-167 1h2m1 0h1m1 0h1m2 0h2m2 0h1m33 0h1m29 0h1m11 0h1m3 0h1m11 0h1m37 0h1m2 0h1m4 0h1m16 0h1m-176 1h1m2 0h1m1 0h1m1 0h5m1 0h1m5 0h2m28 0h1m26 0h1m1 0h1m25 0h1m7 0h1m39 0h1m6 0h1m2 0h1m-158 1h1m2 0h1m1 0h1m1 0h3m37 0h1m12 0h1m14 0h1m16 0h1m56 0h1m12 0h1m2 0h1m4 0h1m-174 1h1m3 0h1m1 0h4m2 0h2m1 0h1m1 0h2m32 0h1m81 0h1m4 0h1m16 0h1m4 0h1m8 0h1m-172 1h1m11 0h1m1 0h4m1 0h2m48 0h1m4 0h1m13 0h1m2 0h1m10 0h1m5 0h1m13 0h1m19 0h1m11 0h1m8 0h1m8 0h1m-167 1h1m1 0h2m1 0h5m21 0h1m10 0h1m29 0h1m8 0h1m2 0h1m3 0h1m33 0h1m5 0h1m11 0h1m1 0h1m16 0h1m-159 1h1m2 0h3m2 0h1m1 0h1m1 0h1m3 0h1m90 0h1m9 0h1m2 0h1m4 0h1m3 0h1m2 0h1m10 0h1m11 0h1m-161 1h1m1 0h1m1 0h1m1 0h6m1 0h2m1 0h1m18 0h1m32 0h1m16 0h1m13 0h1m22 0h1m3 0h2m15 0h1m1 0h1m4 0h1m13 0h1m-162 1h2m5 0h1m1 0h3m57 0h1m2 0h1m16 0h1m4 0h1m33 0h1m1 0h1m8 0h1m2 0h1m5 0h1m16 0h1m-168 1h2m4 0h4m5 0h1m23 0h1m13 0h1m37 0h1m3 0h1m12 0h1m13 0h1m13 0h1m6 0h1m-141 1h1m2 0h2m1 0h1m1 0h2m19 0h1m32 0h1m7 0h1m51 0h1m28 0h1m2 0h1m1 0h1m-162 1h1m5 0h1m1 0h1m1 0h1m4 0h1m1 0h1m2 0h1m20 0h1m7 0h1m20 0h1m27 0h1m5 0h1m2 0h1m8 0h1m8 0h1m9 0h1m1 0h1m-132 1h6m1 0h2m1 0h2m25 0h1m26 0h2m13 0h1m14 0h1m9 0h1m18 0h1m8 0h1m4 0h1m5 0h1m14 0h1m-165 1h1m3 0h1m3 0h7m4 0h1m2 0h1m38 0h1m15 0h1m24 0h2m27 0h1m1 0h1m2 0h1m2 0h2m1 0h1m4 0h1m3 0h1m19 0h1m-169 1h1m1 0h6m2 0h2m5 0h1m6 0h1m24 0h1m4 0h1m30 0h1m14 0h2m5 0h1m15 0h1m28 0h1m1 0h1m-155 1h1m3 0h1m3 0h1m1 0h4m2 0h1m21 0h1m12 0h1m15 0h1m53 0h1m39 0h1m-162 1h1m5 0h1m1 0h3m2 0h2m3 0h1m51 0h1m28 0h1m2 0h1m36 0h1m7 0h1m2 0h1m1 0h1m-155 1h2m2 0h2m1 0h1m1 0h3m2 0h1m15 0h1m15 0h1m11 0h1m19 0h1m35 0h1m7 0h1m20 0h1m7 0h1m7 0h1m-160 1h2m3 0h1m1 0h1m2 0h2m4 0h1m44 0h2m24 0h1m54 0h1m11 0h1m-161 1h1m9 0h1m2 0h1m4 0h1m17 0h1m69 0h1m19 0h1m4 0h1m21 0h1m2 0h1m-152 1h1m4 0h1m1 0h3m1 0h1m1 0h3m1 0h1m20 0h1m39 0h1m35 0h1m8 0h1m5 0h1m1 0h1m20 0h1m11 0h1m-162 1h2m1 0h6m1 0h1m1 0h1m1 0h1m14 0h1m16 0h1m61 0h1m-108 1h2m1 0h1m2 0h3m2 0h1m1 0h2m24 0h1m46 0h1m3 0h2m9 0h1m34 0h1m23 0h1m-159 1h1m1 0h1m1 0h1m1 0h1m1 0h2m32 0h1m25 0h1m68 0h1m18 0h1m5 0h1m-167 1h1m3 0h1m2 0h4m1 0h3m1 0h2m26 0h1m58 0h1m19 0h1m3 0h1m38 0h1m-170 1h1m5 0h2m1 0h1m1 0h1m1 0h3m30 0h1m11 0h1m24 0h1m79 0h1m7 0h1m-175 1h1m8 0h1m1 0h2m1 0h4m1 0h2m1 0h1m63 0h1m14 0h1m3 0h1m44 0h1m-141 1h1m3 0h3m1 0h1m1 0h1m1 0h1m58 0h1m25 0h1m19 0h1m45 0h1m-164 1h1m1 0h4m1 0h1m39 0h1m9 0h1m14 0h1m52 0h1m-131 1h1m1 0h1m4 0h1m2 0h2m2 0h1m82 0h1m25 0h2m6 0h1m4 0h1m1 0h1m-138 1h2m3 0h2m2 0h7m1 0h2m53 0h1m25 0h1m42 0h1m5 0h1m5 0h1m-148 1h1m1 0h3m1 0h1m3 0h1m28 0h1m26 0h2m-72 1h3m1 0h2m1 0h1m1 0h1m30 0h1m16 0h1m41 0h1m11 0h1m6 0h1m-117 1h8m1 0h1m48 0h1m3 0h1m-67 1h2m1 0h1m2 0h4m2 0h1m1 0h1m2 0h1m13 0h1m24 0h1m78 0h1m-132 1h4m2 0h1m1 0h2m1 0h1m2 0h2m25 0h1m65 0h1m-109 1h1m1 0h1m1 0h1m1 0h4m2 0h1m28 0h1m86 0h1m-126 1h2m2 0h3m1 0h1m7 0h2m-34 1h1m6 0h1m2 0h2m3 0h1m1 0h1m1 0h8m1 0h1m55 0h1m-73 1h1m2 0h1m1 0h1m1 0h1m1 0h5m2 0h2m-28 1h1m5 0h1m3 0h2m1 0h6m1 0h1m1 0h1m1 0h1m2 0h1m2 0h1m-26 1h1m2 0h1m2 0h11m3 0h2m87 0h1m-103 1h2m1 0h4m2 0h1m2 0h3m1 0h2m6 0h1m94 0h1m-128 1h1m2 0h8m1 0h3m1 0h1m2 0h1m1 0h2m1 0h1m2 0h1m94 0h1m28 0h1m-153 1h1m5 0h1m1 0h3m1 0h7m1 0h1m5 0h1m95 0h1m-118 1h11m1 0h3m2 0h1m1 0h1m-25 1h1m1 0h1m3 0h1m2 0h8m1 0h3m1 0h1m4 0h1m37 0h1m88 0h1m16 0h1m-168 1h1m4 0h11m2 0h2m2 0h1m-29 1h1m8 0h1m1 0h13m67 0h1m27 0h1m-117 1h2m1 0h7m1 0h10m5 0h2m11 0h1m6 0h1m-43 1h1m1 0h1m1 0h3m1 0h11m9 0h1m3 0h2m60 0h1m-100 1h2m4 0h4m1 0h7m1 0h1m1 0h2m1 0h1m2 0h1m6 0h1m1 0h1m-34 1h1m1 0h17m1 0h4m6 0h1m89 0h1m-124 1h1m3 0h23m1 0h1m4 0h2m50 0h1m-91 1h1m4 0h25m1 0h1m2 0h1m7 0h1m107 0h1m-152 1h1m4 0h26m1 0h6m2 0h1m3 0h1m-40 1h31m11 0h1m7 0h1m-56 1h5m1 0h30m1 0h1m2 0h1m7 0h1m-52 1h1m4 0h33m3 0h4m13 0h1m-58 1h2m1 0h37m1 0h2m7 0h1m69 0h1m52 0h1m-170 1h31m1 0h3m1 0h1m1 0h1m8 0h1m1 0h1m4 0h1m2 0h1m19 0h1m-81 1h39m3 0h1m15 0h1m-59 1h37m4 0h1m10 0h1m10 0h1m116 0h1m-182 1h1m2 0h37m-40 1h1m1 0h37m10 0h1m5 0h1m-59 1h1m1 0h1m2 0h36m1 0h1m11 0h1m50 0h1m-105 1h1m1 0h38m53 0h1m45 0h1m-137 1h36m1 0h1m4 0h1m-43 1h37m18 0h1m-57 1h1m1 0h35m1 0h2m-37 1h3m1 0h26m1 0h1m2 0h1m-40 1h1m4 0h1m1 0h2m1 0h26m4 0h1m-36 1h1m1 0h28m2 0h2m-38 1h1m5 0h1m1 0h22m1 0h3m-27 1h1m1 0h1m1 0h22m-26 1h1m2 0h3m1 0h15m1 0h3m-28 1h1m1 0h2m4 0h1m8 0h3m2 0h1m-20 1h2m3 0h2m1 0h3m1 0h2m-16 1h1m3 0h1m3 0h1m2 0h1m4 0h2m-11 1h1m6 0h2m5 0h1m-12 1h1m2 0h1m-15 1h1m14 1h1m6 1h1" stroke="#000" stroke-width="1" fill="none" transform="translate(0 .5)" shape-rendering="crispEdges"/>
<g font-size="12">
<text x="5" y="38.3" font-size="12.6" text-anchor="start" fill="#000">0,78</text>
<text x="243.8" y="38.2" font-size="12.6" text-anchor="end" fill="#000">0,53</text>
<text x="5" y="252.5" font-size="12.6" text-anchor="start" fill="#000">98,5</text>
<text x="244" y="252.3" font-size="12.6" text-anchor="end" fill="#000">0,21</text>
</g>
</g>
<g transform="translate(1572.2 457.7)">
<use href="#ax"/>
<path d="M71 50h1m-2 1h1m0 10h1m-5 14h1m-4 7h1m5 13h1m2 3h1m-4 1h1m0 4h1m0 2h1m135 0h1m-138 1h1m64 1h1m80 0h2m-159 1h1m13 0h1m-5 1h1m38 1h1m60 0h1m26 0h1m-84 2h1m67 0h1m-117 1h2m2 0h1m2 0h1m1 0h2m67 0h1m-79 1h1m33 0h1m15 0h1m41 0h1m7 0h1m-105 1h2m4 0h1m2 0h4m-14 1h1m1 0h1m1 0h2m2 0h1m3 0h1m3 0h1m110 0h1m9 0h1m-130 1h1m1 0h2m3 0h1m70 0h1m-86 1h1m9 0h1m4 0h1m55 0h1m14 0h1m-86 1h1m12 0h1m55 0h1m54 0h1m17 0h1m-146 1h1m2 0h1m2 0h3m2 0h2m5 0h1m15 0h1m55 0h2m9 0h1m-95 1h1m2 0h1m3 0h1m70 0h1m35 0h1m-118 1h1m8 0h1m6 0h1m9 0h1m16 0h1m25 0h1m11 0h1m22 0h1m20 0h1m1 0h1m9 0h1m1 0h2m-139 1h2m1 0h2m62 0h1m18 0h1m21 0h1m5 0h1m35 0h1m2 0h1m-149 1h1m1 0h2m1 0h1m35 0h1m83 0h1m3 0h1m-139 1h1m1 0h1m10 0h1m2 0h1m56 0h1m72 0h1m-154 1h1m7 0h1m1 0h3m6 0h2m2 0h2m61 0h1m14 0h1m37 0h1m5 0h1m-139 1h1m3 0h2m7 0h1m1 0h2m12 0h1m26 0h1m32 0h1m5 0h1m5 0h1m44 0h1m1 0h1m3 0h1m1 0h1m2 0h1m-155 1h1m1 0h1m1 0h2m3 0h1m6 0h1m35 0h1m35 0h1m27 0h1m10 0h1m4 0h1m7 0h1m5 0h1m3 0h1m1 0h1m4 0h1m-163 1h1m6 0h3m5 0h2m35 0h1m29 0h1m39 0h1m17 0h1m3 0h1m-144 1h1m11 0h2m2 0h1m44 0h1m2 0h1m6 0h1m45 0h1m29 0h1m3 0h1m-150 1h2m5 0h1m45 0h2m1 0h1m5 0h1m23 0h1m38 0h1m22 0h1m-152 1h2m9 0h3m2 0h1m33 0h1m9 0h1m3 0h1m8 0h1m12 0h1m12 0h1m27 0h1m17 0h1m2 0h1m1 0h1m13 0h2m-166 1h1m5 0h1m1 0h1m1 0h1m4 0h1m4 0h1m12 0h1m69 0h1m18 0h1m10 0h1m8 0h1m12 0h1m12 0h1m1 0h1m-166 1h1m1 0h1m4 0h2m2 0h1m2 0h1m30 0h1m2 0h1m3 0h1m17 0h1m10 0h1m16 0h1m28 0h1m3 0h1m5 0h2m3 0h1m11 0h1m2 0h1m-160 1h2m4 0h1m2 0h4m8 0h1m7 0h1m41 0h1m1 0h2m14 0h1m7 0h1m20 0h1m10 0h1m9 0h1m-147 1h1m13 0h1m7 0h1m1 0h1m28 0h1m7 0h1m5 0h1m33 0h1m15 0h1m1 0h1m15 0h1m4 0h1m5 0h1m6 0h1m3 0h1m4 0h2m1 0h1m8 0h1m-175 1h1m4 0h2m1 0h1m3 0h1m2 0h2m1 0h1m2 0h1m16 0h1m24 0h1m14 0h1m7 0h1m2 0h1m10 0h1m2 0h1m16 0h1m39 0h1m2 0h1m-155 1h1m1 0h3m3 0h1m1 0h1m32 0h1m15 0h1m1 0h2m6 0h1m1 0h1m41 0h1m3 0h1m18 0h1m1 0h1m9 0h2m13 0h1m1 0h1m-163 1h1m2 0h1m1 0h3m16 0h1m13 0h1m58 0h1m13 0h1m12 0h1m16 0h1m9 0h1m8 0h2m2 0h1m-162 1h2m32 0h1m15 0h1m51 0h1m9 0h1m1 0h1m7 0h1m1 0h1m11 0h1m7 0h1m-151 1h3m2 0h2m69 0h1m9 0h1m12 0h1m4 0h1m1 0h1m21 0h1m16 0h1m-146 1h1m1 0h2m1 0h1m2 0h1m1 0h1m2 0h1m4 0h1m39 0h1m21 0h1m25 0h1m21 0h1m4 0h1m16 0h1m11 0h1m-160 1h4m2 0h1m50 0h1m7 0h1m7 0h1m39 0h1m7 0h1m2 0h1m8 0h4m14 0h1m2 0h1m8 0h1m-166 1h1m1 0h2m1 0h1m4 0h2m4 0h1m29 0h1m4 0h1m14 0h1m55 0h1m4 0h1m11 0h1m3 0h1m14 0h1m-166 1h1m3 0h1m3 0h3m2 0h1m1 0h1m3 0h1m21 0h1m26 0h1m1 0h1m4 0h1m20 0h1m9 0h1m1 0h1m5 0h1m13 0h1m22 0h1m-145 1h2m1 0h1m2 0h1m1 0h1m28 0h1m34 0h1m10 0h1m15 0h1m5 0h1m2 0h1m24 0h1m12 0h1m8 0h2m-162 1h2m2 0h1m9 0h1m15 0h2m16 0h1m25 0h1m24 0h1m11 0h1m7 0h1m3 0h1m5 0h1m1 0h1m5 0h1m2 0h1m4 0h1m14 0h1m-161 1h1m2 0h1m2 0h2m2 0h1m5 0h1m4 0h1m8 0h1m70 0h2m3 0h1m2 0h1m12 0h1m16 0h1m2 0h1m1 0h1m1 0h1m2 0h1m4 0h1m3 0h1m6 0h1m1 0h1m-156 1h1m26 0h1m24 0h1m9 0h1m2 0h1m34 0h1m7 0h2m32 0h1m3 0h1m11 0h1m-167 1h3m2 0h2m1 0h1m2 0h1m1 0h2m3 0h1m3 0h1m12 0h1m6 0h2m21 0h1m12 0h1m13 0h1m26 0h1m10 0h1m26 0h1m-158 1h1m9 0h1m38 0h1m3 0h1m31 0h1m9 0h1m10 0h1m4 0h1m23 0h1m13 0h2m1 0h1m1 0h1m2 0h1m-157 1h1m2 0h1m1 0h1m3 0h1m3 0h1m1 0h1m1 0h1m6 0h1m9 0h1m6 0h1m46 0h1m12 0h1m2 0h1m3 0h1m10 0h1m17 0h1m2 0h1m15 0h1m-154 1h3m10 0h1m15 0h1m2 0h1m15 0h1m5 0h1m7 0h1m9 0h1m24 0h1m16 0h1m5 0h1m13 0h1m18 0h2m1 0h1m-158 1h2m4 0h1m2 0h1m3 0h1m37 0h1m43 0h1m20 0h1m4 0h1m1 0h1m25 0h1m1 0h1m-157 1h1m2 0h1m1 0h1m1 0h1m1 0h1m1 0h2m1 0h1m13 0h1m6 0h1m40 0h1m19 0h1m9 0h1m3 0h1m38 0h1m6 0h1m2 0h1m4 0h1m-162 1h1m2 0h3m1 0h3m6 0h1m9 0h1m5 0h1m29 0h1m10 0h2m41 0h2m39 0h2m6 0h1m-173 1h1m1 0h1m6 0h2m1 0h2m1 0h1m29 0h1m11 0h1m13 0h1m5 0h1m7 0h1m11 0h1m2 0h1m35 0h1m4 0h1m28 0h1m-167 1h1m2 0h1m1 0h2m2 0h2m16 0h1m14 0h1m16 0h1m9 0h1m5 0h1m3 0h1m2 0h1m31 0h1m28 0h1m12 0h1m-159 1h1m11 0h2m2 0h1m24 0h1m8 0h1m50 0h1m27 0h1m1 0h1m1 0h2m6 0h1m5 0h1m13 0h1m6 0h2m-172 1h1m5 0h1m3 0h1m1 0h1m3 0h1m4 0h1m1 0h1m34 0h1m44 0h1m30 0h1m24 0h1m-162 1h1m3 0h1m4 0h2m3 0h3m1 0h1m1 0h1m38 0h1m19 0h1m5 0h1m2 0h1m1 0h1m40 0h1m5 0h1m8 0h1m3 0h1m19 0h1m3 0h1m1 0h1m-169 1h1m3 0h6m20 0h1m18 0h1m77 0h1m6 0h1m25 0h1m-167 1h1m8 0h1m1 0h1m2 0h1m4 0h1m18 0h1m41 0h1m33 0h1m2 0h1m13 0h1m12 0h1m4 0h1m1 0h1m11 0h1m5 0h1m-164 1h1m3 0h2m2 0h3m1 0h1m29 0h2m8 0h1m11 0h1m11 0h1m14 0h1m20 0h1m1 0h1m1 0h1m1 0h1m7 0h2m23 0h1m1 0h1m-149 1h2m22 0h1m1 0h1m18 0h1m11 0h2m74 0h1m7 0h1m2 0h1m-152 1h1m1 0h2m3 0h3m3 0h1m13 0h1m10 0h1m13 0h1m21 0h1m40 0h1m27 0h1m-139 1h2m2 0h1m1 0h1m3 0h1m3 0h1m34 0h1m9 0h1m12 0h1m3 0h2m17 0h1m23 0h1m11 0h1m9 0h1m19 0h1m-164 1h4m1 0h2m4 0h1m3 0h1m30 0h1m31 0h1m18 0h1m10 0h1m16 0h1m14 0h1m15 0h1m7 0h1m-161 1h1m1 0h1m4 0h1m14 0h1m4 0h1m7 0h1m10 0h1m66 0h1m15 0h1m2 0h1m5 0h1m18 0h1m-172 1h1m2 0h1m7 0h1m1 0h2m3 0h2m9 0h1m34 0h1m49 0h1m15 0h1m39 0h1m-154 1h1m1 0h1m47 0h1m5 0h1m16 0h1m21 0h1m17 0h1m4 0h1m21 0h1m9 0h1m4 0h1m-168 1h1m3 0h3m35 0h1m18 0h1m13 0h1m34 0h1m24 0h1m8 0h1m6 0h1m-158 1h1m6 0h1m2 0h1m1 0h1m1 0h1m3 0h1m4 0h1m8 0h1m5 0h1m13 0h1m8 0h1m2 0h1m72 0h1m3 0h1m-129 1h6m2 0h1m10 0h1m82 0h1m6 0h1m8 0h1m3 0h1m6 0h1m22 0h1m-162 1h1m8 0h1m3 0h2m1 0h3m86 0h1m9 0h1m12 0h1m-126 1h1m2 0h1m1 0h1m4 0h2m2 0h1m2 0h1m16 0h1m24 0h1m30 0h1m46 0h1m15 0h1m-153 1h1m1 0h1m1 0h1m1 0h3m1 0h1m1 0h2m57 0h1m3 0h1m18 0h1m9 0h1m4 0h1m57 0h1m-172 1h1m7 0h1m4 0h2m5 0h1m34 0h1m2 0h1m30 0h1m22 0h1m31 0h2m-142 1h2m4 0h1m2 0h1m1 0h1m59 0h1m8 0h1m22 0h1m12 0h1m21 0h1m9 0h1m11 0h1m-154 1h2m3 0h1m3 0h1m1 0h1m63 0h1m33 0h1m4 0h1m18 0h1m-150 1h1m8 0h1m2 0h1m1 0h3m2 0h1m39 0h1m1 0h1m72 0h1m19 0h1m2 0h1m-150 1h2m2 0h2m1 0h2m3 0h1m4 0h1m21 0h1m43 0h1m7 0h1m-92 1h2m1 0h1m1 0h2m2 0h2m4 0h1m4 0h1m63 0h1m44 0h1m-133 1h1m1 0h2m2 0h1m3 0h2m2 0h2m4 0h1m103 0h1m-124 1h1m2 0h8m1 0h2m2 0h1m4 0h1m69 0h1m8 0h1m4 0h1m36 0h1m7 0h1m-149 1h1m6 0h1m1 0h1m3 0h1m2 0h1m4 0h1m34 0h1m-60 1h1m1 0h1m1 0h1m2 0h1m1 0h5m1 0h2m1 0h2m1 0h1m1 0h1m92 0h1m-117 1h3m2 0h5m1 0h5m1 0h1m1 0h2m2 0h2m2 0h1m127 0h1m-151 1h2m1 0h4m2 0h3m2 0h1m51 0h1m-75 1h1m4 0h1m2 0h2m1 0h1m1 0h1m1 0h5m52 0h1m4 0h1m87 0h1m-160 1h1m2 0h7m1 0h4m1 0h1m2 0h1m2 0h1m-21 1h2m1 0h6m2 0h1m1 0h1m1 0h1m83 0h1m37 0h1m-140 1h4m1 0h8m1 0h3m108 0h1m-124 1h11m1 0h1m1 0h1m19 0h1m84 0h1m-120 1h2m1 0h6m2 0h2m1 0h1m1 0h2m13 0h1m48 0h1m-87 1h1m2 0h1m1 0h16m2 0h1m-26 1h1m3 0h2m1 0h1m1 0h13m17 0h1m-32 1h1m1 0h2m1 0h8m2 0h2m2 0h1m9 0h1m67 0h1m21 0h1m5 0h1m19 0h1m-149 1h19m1 0h1m8 0h2m10 0h1m6 0h1m52 0h1m-105 1h3m1 0h21m62 0h1m-89 1h30m1 0h1m5 0h1m113 0h1m-156 1h1m2 0h1m1 0h2m1 0h22m2 0h1m3 0h1m12 0h1m-54 1h1m6 0h4m1 0h26m2 0h1m31 0h1m-68 1h1m1 0h27m2 0h2m1 0h3m1 0h1m5 0h1m90 0h1m29 0h1m-167 1h31m2 0h1m2 0h1m1 0h1m3 0h1m5 0h1m4 0h1m64 0h1m-119 1h32m4 0h1m10 0h1m32 0h1m-83 1h36m1 0h2m1 0h1m7 0h2m14 0h1m52 0h1m27 0h1m25 0h1m-178 1h1m2 0h1m1 0h31m1 0h5m2 0h2m8 0h1m119 0h1m-169 1h32m2 0h3m3 0h1m12 0h1m84 0h1m-144 1h1m1 0h1m1 0h36m3 0h1m15 0h1m2 0h1m1 0h1m-64 1h1m1 0h1m2 0h36m7 0h1m-48 1h1m1 0h1m1 0h33m4 0h3m5 0h1m1 0h1m-50 1h35m5 0h1m-41 1h33m1 0h2m7 0h1m2 0h1m3 0h1m-51 1h1m1 0h33m2 0h1m9 0h1m29 0h1m-93 1h1m6 0h1m6 0h1m3 0h29m1 0h3m64 0h1m-101 1h1m1 0h27m1 0h1m1 0h4m-38 1h1m1 0h1m1 0h33m10 0h1m-45 1h28m2 0h1m-28 1h27m1 0h1m-31 1h1m3 0h10m1 0h13m-37 1h1m5 0h1m2 0h1m3 0h19m1 0h2m4 0h1m-30 1h1m3 0h1m1 0h17m153 0h1m-174 1h1m2 0h2m1 0h11m1 0h1m-26 1h1m10 0h1m2 0h3m1 0h3m1 0h1m3 0h4m-23 1h1m3 0h1m14 0h1m-16 1h1m12 4h1" stroke="#000" stroke-width="1" fill="none" transform="translate(0 .5)" shape-rendering="crispEdges"/>
<g font-size="12">
<text x="5" y="38.3" font-size="12.6" text-anchor="start" fill="#000">0,51</text>
<text x="243.8" y="38.2" font-size="12.6" text-anchor="end" fill="#000">0,64</text>
<text x="5" y="252.5" font-size="12.6" text-anchor="start" fill="#000">98,7</text>
<text x="244" y="252.3" font-size="12.6" text-anchor="end" fill="#000">0,10</text>
</g>
</g>
<text x="229.6" y="898.2" font-size="33.4" text-anchor="start" fill="#000">Spike-specific CD4+CD154+cytokine+</text>
<text x="19" y="874" font-size="33.4" text-anchor="start" fill="#000">B</text>
<text transform="translate(90.7 1256) rotate(-90)" font-size="33.5" text-anchor="start" fill="#000">% of CD4+ T cells</text>
<line x1="232.4" y1="1255" x2="232.4" y2="1276" stroke="#2c6aa0" stroke-width="1.9"/>
<line x1="227.5" y1="1255" x2="237.3" y2="1255" stroke="#2c6aa0" stroke-width="1.9"/>
<line x1="227.5" y1="1276" x2="237.3" y2="1276" stroke="#2c6aa0" stroke-width="1.9"/>
<line x1="365.7" y1="963.3" x2="365.7" y2="1116" stroke="#2c6aa0" stroke-width="1.9"/>
<line x1="360.8" y1="963.3" x2="370.6" y2="963.3" stroke="#2c6aa0" stroke-width="1.9"/>
<line x1="360.8" y1="1116" x2="370.6" y2="1116" stroke="#2c6aa0" stroke-width="1.9"/>
<line x1="499" y1="1126" x2="499" y2="1197.3" stroke="#2c6aa0" stroke-width="1.9"/>
<line x1="494.1" y1="1126" x2="503.9" y2="1126" stroke="#2c6aa0" stroke-width="1.9"/>
<line x1="494.1" y1="1197.3" x2="503.9" y2="1197.3" stroke="#2c6aa0" stroke-width="1.9"/>
<line x1="632.3" y1="1090" x2="632.3" y2="1150" stroke="#2c6aa0" stroke-width="1.9"/>
<line x1="627.4" y1="1090" x2="637.2" y2="1090" stroke="#2c6aa0" stroke-width="1.9"/>
<line x1="627.4" y1="1150" x2="637.2" y2="1150" stroke="#2c6aa0" stroke-width="1.9"/>
<line x1="764.7" y1="1141.9" x2="764.7" y2="1197.4" stroke="#2c6aa0" stroke-width="1.9"/>
<line x1="759.8" y1="1141.9" x2="769.6" y2="1141.9" stroke="#2c6aa0" stroke-width="1.9"/>
<line x1="759.8" y1="1197.4" x2="769.6" y2="1197.4" stroke="#2c6aa0" stroke-width="1.9"/>
<line x1="365.7" y1="1271.7" x2="365.7" y2="1290" stroke="#b8161e" stroke-width="1.9"/>
<line x1="360.8" y1="1271.7" x2="370.6" y2="1271.7" stroke="#b8161e" stroke-width="1.9"/>
<line x1="360.8" y1="1290" x2="370.6" y2="1290" stroke="#b8161e" stroke-width="1.9"/>
<line x1="499" y1="1213.3" x2="499" y2="1256" stroke="#b8161e" stroke-width="1.9"/>
<line x1="494.1" y1="1213.3" x2="503.9" y2="1213.3" stroke="#b8161e" stroke-width="1.9"/>
<line x1="494.1" y1="1256" x2="503.9" y2="1256" stroke="#b8161e" stroke-width="1.9"/>
<line x1="632.3" y1="1227.3" x2="632.3" y2="1259" stroke="#b8161e" stroke-width="1.9"/>
<line x1="627.4" y1="1227.3" x2="637.2" y2="1227.3" stroke="#b8161e" stroke-width="1.9"/>
<line x1="627.4" y1="1259" x2="637.2" y2="1259" stroke="#b8161e" stroke-width="1.9"/>
<line x1="764.7" y1="1159" x2="764.7" y2="1215.1" stroke="#b8161e" stroke-width="1.9"/>
<line x1="759.8" y1="1159" x2="769.6" y2="1159" stroke="#b8161e" stroke-width="1.9"/>
<line x1="759.8" y1="1215.1" x2="769.6" y2="1215.1" stroke="#b8161e" stroke-width="1.9"/>
<polyline fill="none" stroke="#0672c5" stroke-width="6" stroke-linejoin="miter" points="232.4,1265.7 365.7,1040.7 499,1163.3 632.3,1120.7 764.7,1169.6"/>
<rect x="225.1" y="1258.4" width="14.6" height="14.6" fill="#0672c5"/>
<rect x="358.4" y="1033.4" width="14.6" height="14.6" fill="#0672c5"/>
<rect x="491.7" y="1156" width="14.6" height="14.6" fill="#0672c5"/>
<rect x="625" y="1113.4" width="14.6" height="14.6" fill="#0672c5"/>
<rect x="757.4" y="1162.3" width="14.6" height="14.6" fill="#0672c5"/>
<polyline fill="none" stroke="#fe0000" stroke-width="6" stroke-linejoin="miter" points="232.4,1294.3 365.7,1281 499,1235.7 632.3,1243.3 764.7,1188.5"/>
<rect x="225.1" y="1287" width="14.6" height="14.6" fill="#fe0000"/>
<rect x="358.4" y="1273.7" width="14.6" height="14.6" fill="#fe0000"/>
<rect x="491.7" y="1228.4" width="14.6" height="14.6" fill="#fe0000"/>
<rect x="625" y="1236" width="14.6" height="14.6" fill="#fe0000"/>
<rect x="757.4" y="1181.2" width="14.6" height="14.6" fill="#fe0000"/>
<line x1="165.3" y1="927" x2="165.3" y2="1308.2" stroke="#000" stroke-width="2"/>
<line x1="164.3" y1="1307.2" x2="833" y2="1307.2" stroke="#000" stroke-width="2"/>
<line x1="158.9" y1="1307.2" x2="165.3" y2="1307.2" stroke="#000" stroke-width="2"/>
<text x="154.3" y="1316" font-size="24.2" text-anchor="end" fill="#000">0</text>
<line x1="158.9" y1="1265.1" x2="165.3" y2="1265.1" stroke="#000" stroke-width="2"/>
<text x="154.3" y="1273.9" font-size="24.2" text-anchor="end" fill="#000">0.1</text>
<line x1="158.9" y1="1222.9" x2="165.3" y2="1222.9" stroke="#000" stroke-width="2"/>
<text x="154.3" y="1231.7" font-size="24.2" text-anchor="end" fill="#000">0.2</text>
<line x1="158.9" y1="1180.8" x2="165.3" y2="1180.8" stroke="#000" stroke-width="2"/>
<text x="154.3" y="1189.6" font-size="24.2" text-anchor="end" fill="#000">0.3</text>
<line x1="158.9" y1="1138.7" x2="165.3" y2="1138.7" stroke="#000" stroke-width="2"/>
<text x="154.3" y="1147.5" font-size="24.2" text-anchor="end" fill="#000">0.4</text>
<line x1="158.9" y1="1096.5" x2="165.3" y2="1096.5" stroke="#000" stroke-width="2"/>
<text x="154.3" y="1105.3" font-size="24.2" text-anchor="end" fill="#000">0.5</text>
<line x1="158.9" y1="1054.4" x2="165.3" y2="1054.4" stroke="#000" stroke-width="2"/>
<text x="154.3" y="1063.2" font-size="24.2" text-anchor="end" fill="#000">0.6</text>
<line x1="158.9" y1="1012.3" x2="165.3" y2="1012.3" stroke="#000" stroke-width="2"/>
<text x="154.3" y="1021.1" font-size="24.2" text-anchor="end" fill="#000">0.7</text>
<line x1="158.9" y1="970.1" x2="165.3" y2="970.1" stroke="#000" stroke-width="2"/>
<text x="154.3" y="978.9" font-size="24.2" text-anchor="end" fill="#000">0.8</text>
<line x1="158.9" y1="928" x2="165.3" y2="928" stroke="#000" stroke-width="2"/>
<text x="154.3" y="940.6" font-size="24.2" text-anchor="end" fill="#000">0.9</text>
<line x1="165.3" y1="1307.2" x2="165.3" y2="1313.6" stroke="#000" stroke-width="2"/>
<line x1="298.6" y1="1307.2" x2="298.6" y2="1313.6" stroke="#000" stroke-width="2"/>
<line x1="432" y1="1307.2" x2="432" y2="1313.6" stroke="#000" stroke-width="2"/>
<line x1="565.3" y1="1307.2" x2="565.3" y2="1313.6" stroke="#000" stroke-width="2"/>
<line x1="698.7" y1="1307.2" x2="698.7" y2="1313.6" stroke="#000" stroke-width="2"/>
<line x1="832" y1="1307.2" x2="832" y2="1313.6" stroke="#000" stroke-width="2"/>
<text x="231" y="1337.4" font-size="33.4" text-anchor="middle" fill="#000">pre-</text>
<text x="231.6" y="1367.8" font-size="33.4" text-anchor="middle" fill="#000">vaccine</text>
<text x="363.2" y="1337.4" font-size="33.4" text-anchor="middle" fill="#000">+7</text>
<text x="364.2" y="1367.8" font-size="33.4" text-anchor="middle" fill="#000">days</text>
<text x="491.3" y="1337.4" font-size="33.4" text-anchor="middle" fill="#000">+14</text>
<text x="491.7" y="1367.8" font-size="33.4" text-anchor="middle" fill="#000">days</text>
<text x="626.7" y="1337.4" font-size="33.4" text-anchor="middle" fill="#000">+21</text>
<text x="632.8" y="1367.8" font-size="33.4" text-anchor="middle" fill="#000">days</text>
<text x="757" y="1337.4" font-size="33.4" text-anchor="middle" fill="#000">+28</text>
<text x="757.2" y="1367.8" font-size="33.4" text-anchor="middle" fill="#000">days</text>
<text x="365.7" y="962" font-size="24" text-anchor="middle" fill="#1b70b2">**</text>
<text x="498.8" y="1116" font-size="24" text-anchor="middle" fill="#1b70b2">0.08</text>
<text x="499" y="1218" font-size="24" text-anchor="middle" fill="#cf1c24">*</text>
<text x="765" y="1122.4" font-size="24" text-anchor="middle" fill="#000">**</text>
<text x="763.1" y="1138.9" font-size="24" text-anchor="middle" fill="#1b70b2">*</text>
<text x="785.8" y="1201.2" font-size="24" text-anchor="middle" fill="#cf1c24">*</text>
<text x="785.9" y="1215.3" font-size="24" text-anchor="middle" fill="#000">**</text>
<text x="1057.3" y="898.2" font-size="33.4">Spike-specific CD4+CD154+IFN-<tspan font-family="Liberation Serif" font-size="32">γ</tspan>+</text>
<text x="887.2" y="884.6" font-size="33.4" text-anchor="start" fill="#000">C</text>
<text transform="translate(912.3 1256) rotate(-90)" font-size="33.5" text-anchor="start" fill="#000">% of CD4+ T cells</text>
<line x1="1060.5" y1="1268" x2="1060.5" y2="1287" stroke="#2c6aa0" stroke-width="1.9"/>
<line x1="1055.6" y1="1268" x2="1065.4" y2="1268" stroke="#2c6aa0" stroke-width="1.9"/>
<line x1="1055.6" y1="1287" x2="1065.4" y2="1287" stroke="#2c6aa0" stroke-width="1.9"/>
<line x1="1194" y1="956.7" x2="1194" y2="1113.3" stroke="#2c6aa0" stroke-width="1.9"/>
<line x1="1189.1" y1="956.7" x2="1198.9" y2="956.7" stroke="#2c6aa0" stroke-width="1.9"/>
<line x1="1189.1" y1="1113.3" x2="1198.9" y2="1113.3" stroke="#2c6aa0" stroke-width="1.9"/>
<line x1="1327" y1="1165" x2="1327" y2="1219" stroke="#2c6aa0" stroke-width="1.9"/>
<line x1="1322.1" y1="1165" x2="1331.9" y2="1165" stroke="#2c6aa0" stroke-width="1.9"/>
<line x1="1322.1" y1="1219" x2="1331.9" y2="1219" stroke="#2c6aa0" stroke-width="1.9"/>
<line x1="1460" y1="1123.3" x2="1460" y2="1172.7" stroke="#2c6aa0" stroke-width="1.9"/>
<line x1="1455.1" y1="1123.3" x2="1464.9" y2="1123.3" stroke="#2c6aa0" stroke-width="1.9"/>
<line x1="1455.1" y1="1172.7" x2="1464.9" y2="1172.7" stroke="#2c6aa0" stroke-width="1.9"/>
<line x1="1593.3" y1="1155" x2="1593.3" y2="1208" stroke="#2c6aa0" stroke-width="1.9"/>
<line x1="1588.4" y1="1155" x2="1598.2" y2="1155" stroke="#2c6aa0" stroke-width="1.9"/>
<line x1="1588.4" y1="1208" x2="1598.2" y2="1208" stroke="#2c6aa0" stroke-width="1.9"/>
<line x1="1194" y1="1266.7" x2="1194" y2="1289" stroke="#b8161e" stroke-width="1.9"/>
<line x1="1189.1" y1="1266.7" x2="1198.9" y2="1266.7" stroke="#b8161e" stroke-width="1.9"/>
<line x1="1189.1" y1="1289" x2="1198.9" y2="1289" stroke="#b8161e" stroke-width="1.9"/>
<line x1="1327" y1="1239.3" x2="1327" y2="1274" stroke="#b8161e" stroke-width="1.9"/>
<line x1="1322.1" y1="1239.3" x2="1331.9" y2="1239.3" stroke="#b8161e" stroke-width="1.9"/>
<line x1="1322.1" y1="1274" x2="1331.9" y2="1274" stroke="#b8161e" stroke-width="1.9"/>
<line x1="1460" y1="1269" x2="1460" y2="1292" stroke="#b8161e" stroke-width="1.9"/>
<line x1="1455.1" y1="1269" x2="1464.9" y2="1269" stroke="#b8161e" stroke-width="1.9"/>
<line x1="1455.1" y1="1292" x2="1464.9" y2="1292" stroke="#b8161e" stroke-width="1.9"/>
<line x1="1593.3" y1="1171.7" x2="1593.3" y2="1230" stroke="#b8161e" stroke-width="1.9"/>
<line x1="1588.4" y1="1171.7" x2="1598.2" y2="1171.7" stroke="#b8161e" stroke-width="1.9"/>
<line x1="1588.4" y1="1230" x2="1598.2" y2="1230" stroke="#b8161e" stroke-width="1.9"/>
<polyline fill="none" stroke="#0672c5" stroke-width="6" stroke-linejoin="miter" points="1060.5,1277.7 1194,1036 1327,1192.3 1460,1148.3 1593.3,1181.7"/>
<rect x="1053.2" y="1270.4" width="14.6" height="14.6" fill="#0672c5"/>
<rect x="1186.7" y="1028.7" width="14.6" height="14.6" fill="#0672c5"/>
<rect x="1319.7" y="1185" width="14.6" height="14.6" fill="#0672c5"/>
<rect x="1452.7" y="1141" width="14.6" height="14.6" fill="#0672c5"/>
<rect x="1586" y="1174.4" width="14.6" height="14.6" fill="#0672c5"/>
<polyline fill="none" stroke="#fe0000" stroke-width="6" stroke-linejoin="miter" points="1060.5,1296.7 1194,1278.3 1327,1257.3 1460,1280.7 1593.3,1201"/>
<rect x="1053.2" y="1289.4" width="14.6" height="14.6" fill="#fe0000"/>
<rect x="1186.7" y="1271" width="14.6" height="14.6" fill="#fe0000"/>
<rect x="1319.7" y="1250" width="14.6" height="14.6" fill="#fe0000"/>
<rect x="1452.7" y="1273.4" width="14.6" height="14.6" fill="#fe0000"/>
<rect x="1586" y="1193.7" width="14.6" height="14.6" fill="#fe0000"/>
<line x1="994" y1="928.3" x2="994" y2="1309.3" stroke="#000" stroke-width="2"/>
<line x1="993" y1="1308.3" x2="1660" y2="1308.3" stroke="#000" stroke-width="2"/>
<line x1="987.6" y1="1308.3" x2="994" y2="1308.3" stroke="#000" stroke-width="2"/>
<text x="981.5" y="1316.2" font-size="24.2" text-anchor="end" fill="#000">0</text>
<line x1="987.6" y1="1254.2" x2="994" y2="1254.2" stroke="#000" stroke-width="2"/>
<text x="981.5" y="1262.1" font-size="24.2" text-anchor="end" fill="#000">0.1</text>
<line x1="987.6" y1="1200" x2="994" y2="1200" stroke="#000" stroke-width="2"/>
<text x="981.5" y="1207.9" font-size="24.2" text-anchor="end" fill="#000">0.2</text>
<line x1="987.6" y1="1145.9" x2="994" y2="1145.9" stroke="#000" stroke-width="2"/>
<text x="981.5" y="1153.8" font-size="24.2" text-anchor="end" fill="#000">0.3</text>
<line x1="987.6" y1="1091.7" x2="994" y2="1091.7" stroke="#000" stroke-width="2"/>
<text x="981.5" y="1099.6" font-size="24.2" text-anchor="end" fill="#000">0.4</text>
<line x1="987.6" y1="1037.6" x2="994" y2="1037.6" stroke="#000" stroke-width="2"/>
<text x="981.5" y="1045.5" font-size="24.2" text-anchor="end" fill="#000">0.5</text>
<line x1="987.6" y1="983.4" x2="994" y2="983.4" stroke="#000" stroke-width="2"/>
<text x="981.5" y="991.3" font-size="24.2" text-anchor="end" fill="#000">0.6</text>
<line x1="987.6" y1="929.3" x2="994" y2="929.3" stroke="#000" stroke-width="2"/>
<text x="981.5" y="937.2" font-size="24.2" text-anchor="end" fill="#000">0.7</text>
<line x1="994" y1="1308.3" x2="994" y2="1314.7" stroke="#000" stroke-width="2"/>
<line x1="1127" y1="1308.3" x2="1127" y2="1314.7" stroke="#000" stroke-width="2"/>
<line x1="1260" y1="1308.3" x2="1260" y2="1314.7" stroke="#000" stroke-width="2"/>
<line x1="1393" y1="1308.3" x2="1393" y2="1314.7" stroke="#000" stroke-width="2"/>
<line x1="1526" y1="1308.3" x2="1526" y2="1314.7" stroke="#000" stroke-width="2"/>
<line x1="1659" y1="1308.3" x2="1659" y2="1314.7" stroke="#000" stroke-width="2"/>
<text x="1063.7" y="1338.5" font-size="33.4" text-anchor="middle" fill="#000">pre-</text>
<text x="1064.3" y="1368.9" font-size="33.4" text-anchor="middle" fill="#000">vaccine</text>
<text x="1195.5" y="1338.5" font-size="33.4" text-anchor="middle" fill="#000">+7</text>
<text x="1196.8" y="1368.9" font-size="33.4" text-anchor="middle" fill="#000">days</text>
<text x="1323.7" y="1338.5" font-size="33.4" text-anchor="middle" fill="#000">+14</text>
<text x="1324.5" y="1368.9" font-size="33.4" text-anchor="middle" fill="#000">days</text>
<text x="1459.7" y="1338.5" font-size="33.4" text-anchor="middle" fill="#000">+21</text>
<text x="1465.5" y="1368.9" font-size="33.4" text-anchor="middle" fill="#000">days</text>
<text x="1590" y="1338.5" font-size="33.4" text-anchor="middle" fill="#000">+28</text>
<text x="1590" y="1368.9" font-size="33.4" text-anchor="middle" fill="#000">days</text>
<text x="1194" y="945.8" font-size="24" text-anchor="middle" fill="#1b70b2">**</text>
<text x="1325.7" y="1161.5" font-size="24" text-anchor="middle" fill="#1b70b2">*</text>
<text x="1195.5" y="1255" font-size="24" text-anchor="middle" fill="#cf1c24">0.05</text>
<text x="1459" y="1117.5" font-size="24" text-anchor="middle" fill="#1b70b2">*</text>
<text x="1592.7" y="1155.8" font-size="24" text-anchor="middle" fill="#000">**</text>
<text x="1610.7" y="1214.8" font-size="24" text-anchor="middle" fill="#cf1c24">*</text>
<text x="1611.7" y="1231.8" font-size="24" text-anchor="middle" fill="#000">*</text>
<rect x="1642.6" y="941.4" width="26.8" height="11" fill="#fe0000" stroke="#c81414" stroke-width="1"/>
<text x="1679" y="956" font-size="33.4" text-anchor="start" fill="#cf1c24">Naive</text>
<rect x="1642.6" y="983.6" width="26.8" height="10.9" fill="#0672c5" stroke="#1f6399" stroke-width="1"/>
<text x="1675" y="999" font-size="33.4" text-anchor="start" fill="#1b70b2">ex COVID-19</text>
<text x="262" y="1444.3" font-size="33.4" text-anchor="start" fill="#000">Spike-specific CD4+CD154+IL-2+</text>
<text x="12" y="1452.7" font-size="33.4" text-anchor="start" fill="#000">D</text>
<text transform="translate(90.7 1774) rotate(-90)" font-size="33.5" text-anchor="start" fill="#000">% of CD4+ T cells</text>
<line x1="235" y1="1776" x2="235" y2="1797.3" stroke="#2c6aa0" stroke-width="1.9"/>
<line x1="230.1" y1="1776" x2="239.9" y2="1776" stroke="#2c6aa0" stroke-width="1.9"/>
<line x1="230.1" y1="1797.3" x2="239.9" y2="1797.3" stroke="#2c6aa0" stroke-width="1.9"/>
<line x1="369.3" y1="1505" x2="369.3" y2="1664" stroke="#2c6aa0" stroke-width="1.9"/>
<line x1="364.4" y1="1505" x2="374.2" y2="1505" stroke="#2c6aa0" stroke-width="1.9"/>
<line x1="364.4" y1="1664" x2="374.2" y2="1664" stroke="#2c6aa0" stroke-width="1.9"/>
<line x1="503.3" y1="1634" x2="503.3" y2="1720.7" stroke="#2c6aa0" stroke-width="1.9"/>
<line x1="498.4" y1="1634" x2="508.2" y2="1634" stroke="#2c6aa0" stroke-width="1.9"/>
<line x1="498.4" y1="1720.7" x2="508.2" y2="1720.7" stroke="#2c6aa0" stroke-width="1.9"/>
<line x1="638.3" y1="1591.7" x2="638.3" y2="1668.7" stroke="#2c6aa0" stroke-width="1.9"/>
<line x1="633.4" y1="1591.7" x2="643.2" y2="1591.7" stroke="#2c6aa0" stroke-width="1.9"/>
<line x1="633.4" y1="1668.7" x2="643.2" y2="1668.7" stroke="#2c6aa0" stroke-width="1.9"/>
<line x1="772.3" y1="1679.3" x2="772.3" y2="1739" stroke="#2c6aa0" stroke-width="1.9"/>
<line x1="767.4" y1="1679.3" x2="777.2" y2="1679.3" stroke="#2c6aa0" stroke-width="1.9"/>
<line x1="767.4" y1="1739" x2="777.2" y2="1739" stroke="#2c6aa0" stroke-width="1.9"/>
<line x1="503.3" y1="1737.3" x2="503.3" y2="1791.7" stroke="#b8161e" stroke-width="1.9"/>
<line x1="498.4" y1="1737.3" x2="508.2" y2="1737.3" stroke="#b8161e" stroke-width="1.9"/>
<line x1="498.4" y1="1791.7" x2="508.2" y2="1791.7" stroke="#b8161e" stroke-width="1.9"/>
<line x1="638.3" y1="1739" x2="638.3" y2="1780" stroke="#b8161e" stroke-width="1.9"/>
<line x1="633.4" y1="1739" x2="643.2" y2="1739" stroke="#b8161e" stroke-width="1.9"/>
<line x1="633.4" y1="1780" x2="643.2" y2="1780" stroke="#b8161e" stroke-width="1.9"/>
<line x1="772.3" y1="1706" x2="772.3" y2="1759" stroke="#b8161e" stroke-width="1.9"/>
<line x1="767.4" y1="1706" x2="777.2" y2="1706" stroke="#b8161e" stroke-width="1.9"/>
<line x1="767.4" y1="1759" x2="777.2" y2="1759" stroke="#b8161e" stroke-width="1.9"/>
<polyline fill="none" stroke="#0672c5" stroke-width="6" stroke-linejoin="miter" points="235,1787.3 369.3,1585 503.3,1679 638.3,1631 772.3,1709.3"/>
<rect x="227.7" y="1780" width="14.6" height="14.6" fill="#0672c5"/>
<rect x="362" y="1577.7" width="14.6" height="14.6" fill="#0672c5"/>
<rect x="496" y="1671.7" width="14.6" height="14.6" fill="#0672c5"/>
<rect x="631" y="1623.7" width="14.6" height="14.6" fill="#0672c5"/>
<rect x="765" y="1702" width="14.6" height="14.6" fill="#0672c5"/>
<polyline fill="none" stroke="#fe0000" stroke-width="6" stroke-linejoin="miter" points="235,1833.3 369.3,1825.7 503.3,1764.3 638.3,1760 772.3,1732.3"/>
<rect x="227.7" y="1826" width="14.6" height="14.6" fill="#fe0000"/>
<rect x="362" y="1818.4" width="14.6" height="14.6" fill="#fe0000"/>
<rect x="496" y="1757" width="14.6" height="14.6" fill="#fe0000"/>
<rect x="631" y="1752.7" width="14.6" height="14.6" fill="#fe0000"/>
<rect x="765" y="1725" width="14.6" height="14.6" fill="#fe0000"/>
<line x1="166.7" y1="1460.7" x2="166.7" y2="1841.7" stroke="#000" stroke-width="2"/>
<line x1="165.7" y1="1840.7" x2="839.7" y2="1840.7" stroke="#000" stroke-width="2"/>
<line x1="160.3" y1="1840.7" x2="166.7" y2="1840.7" stroke="#000" stroke-width="2"/>
<text x="154.3" y="1847.7" font-size="24.2" text-anchor="end" fill="#000">0</text>
<line x1="160.3" y1="1777.5" x2="166.7" y2="1777.5" stroke="#000" stroke-width="2"/>
<text x="154.3" y="1784.5" font-size="24.2" text-anchor="end" fill="#000">0.1</text>
<line x1="160.3" y1="1714.4" x2="166.7" y2="1714.4" stroke="#000" stroke-width="2"/>
<text x="154.3" y="1721.4" font-size="24.2" text-anchor="end" fill="#000">0.2</text>
<line x1="160.3" y1="1651.2" x2="166.7" y2="1651.2" stroke="#000" stroke-width="2"/>
<text x="154.3" y="1658.2" font-size="24.2" text-anchor="end" fill="#000">0.3</text>
<line x1="160.3" y1="1588" x2="166.7" y2="1588" stroke="#000" stroke-width="2"/>
<text x="154.3" y="1595" font-size="24.2" text-anchor="end" fill="#000">0.4</text>
<line x1="160.3" y1="1524.9" x2="166.7" y2="1524.9" stroke="#000" stroke-width="2"/>
<text x="154.3" y="1531.9" font-size="24.2" text-anchor="end" fill="#000">0.5</text>
<line x1="160.3" y1="1461.7" x2="166.7" y2="1461.7" stroke="#000" stroke-width="2"/>
<text x="154.3" y="1468.7" font-size="24.2" text-anchor="end" fill="#000">0.6</text>
<line x1="166.7" y1="1840.7" x2="166.7" y2="1847.1" stroke="#000" stroke-width="2"/>
<line x1="301.1" y1="1840.7" x2="301.1" y2="1847.1" stroke="#000" stroke-width="2"/>
<line x1="435.5" y1="1840.7" x2="435.5" y2="1847.1" stroke="#000" stroke-width="2"/>
<line x1="569.9" y1="1840.7" x2="569.9" y2="1847.1" stroke="#000" stroke-width="2"/>
<line x1="704.3" y1="1840.7" x2="704.3" y2="1847.1" stroke="#000" stroke-width="2"/>
<line x1="838.7" y1="1840.7" x2="838.7" y2="1847.1" stroke="#000" stroke-width="2"/>
<text x="231" y="1873.3" font-size="33.4" text-anchor="middle" fill="#000">pre-</text>
<text x="231.6" y="1903.9" font-size="33.4" text-anchor="middle" fill="#000">vaccine</text>
<text x="363.2" y="1873.3" font-size="33.4" text-anchor="middle" fill="#000">+7</text>
<text x="364.2" y="1903.9" font-size="33.4" text-anchor="middle" fill="#000">days</text>
<text x="491.3" y="1873.3" font-size="33.4" text-anchor="middle" fill="#000">+14</text>
<text x="491.7" y="1903.9" font-size="33.4" text-anchor="middle" fill="#000">days</text>
<text x="626.7" y="1873.3" font-size="33.4" text-anchor="middle" fill="#000">+21</text>
<text x="632.8" y="1903.9" font-size="33.4" text-anchor="middle" fill="#000">days</text>
<text x="757" y="1873.3" font-size="33.4" text-anchor="middle" fill="#000">+28</text>
<text x="757.2" y="1903.9" font-size="33.4" text-anchor="middle" fill="#000">days</text>
<text x="369.3" y="1500.8" font-size="24" text-anchor="middle" fill="#1b70b2">**</text>
<text x="503.3" y="1742.5" font-size="24" text-anchor="middle" fill="#cf1c24">*</text>
<text x="774" y="1660.8" font-size="24" text-anchor="middle" fill="#000">**</text>
<text x="774" y="1676.5" font-size="24" text-anchor="middle" fill="#1b70b2">**</text>
<text x="792.3" y="1731.5" font-size="24" text-anchor="middle" fill="#000">**</text>
<text x="791.7" y="1745" font-size="24" text-anchor="middle" fill="#cf1c24">*</text>
<text x="1048.3" y="1444.3" font-size="33.4">Spike-specific CD4+CD154+TNF-<tspan font-family="Liberation Serif" font-size="32">α</tspan>+</text>
<text x="885.6" y="1451.7" font-size="33.4" text-anchor="start" fill="#000">E</text>
<text transform="translate(912.3 1774) rotate(-90)" font-size="33.5" text-anchor="start" fill="#000">% of CD4+ T cells</text>
<line x1="1060.7" y1="1775" x2="1060.7" y2="1804.3" stroke="#2c6aa0" stroke-width="1.9"/>
<line x1="1055.8" y1="1775" x2="1065.6" y2="1775" stroke="#2c6aa0" stroke-width="1.9"/>
<line x1="1055.8" y1="1804.3" x2="1065.6" y2="1804.3" stroke="#2c6aa0" stroke-width="1.9"/>
<line x1="1193.3" y1="1535.7" x2="1193.3" y2="1689.3" stroke="#2c6aa0" stroke-width="1.9"/>
<line x1="1188.4" y1="1535.7" x2="1198.2" y2="1535.7" stroke="#2c6aa0" stroke-width="1.9"/>
<line x1="1188.4" y1="1689.3" x2="1198.2" y2="1689.3" stroke="#2c6aa0" stroke-width="1.9"/>
<line x1="1325.7" y1="1649" x2="1325.7" y2="1748.3" stroke="#2c6aa0" stroke-width="1.9"/>
<line x1="1320.8" y1="1649" x2="1330.6" y2="1649" stroke="#2c6aa0" stroke-width="1.9"/>
<line x1="1320.8" y1="1748.3" x2="1330.6" y2="1748.3" stroke="#2c6aa0" stroke-width="1.9"/>
<line x1="1459" y1="1626.7" x2="1459" y2="1717.7" stroke="#2c6aa0" stroke-width="1.9"/>
<line x1="1454.1" y1="1626.7" x2="1463.9" y2="1626.7" stroke="#2c6aa0" stroke-width="1.9"/>
<line x1="1454.1" y1="1717.7" x2="1463.9" y2="1717.7" stroke="#2c6aa0" stroke-width="1.9"/>
<line x1="1590.7" y1="1671.7" x2="1590.7" y2="1746" stroke="#2c6aa0" stroke-width="1.9"/>
<line x1="1585.8" y1="1671.7" x2="1595.6" y2="1671.7" stroke="#2c6aa0" stroke-width="1.9"/>
<line x1="1585.8" y1="1746" x2="1595.6" y2="1746" stroke="#2c6aa0" stroke-width="1.9"/>
<line x1="1193.3" y1="1795" x2="1193.3" y2="1816.7" stroke="#b8161e" stroke-width="1.9"/>
<line x1="1188.4" y1="1795" x2="1198.2" y2="1795" stroke="#b8161e" stroke-width="1.9"/>
<line x1="1188.4" y1="1816.7" x2="1198.2" y2="1816.7" stroke="#b8161e" stroke-width="1.9"/>
<line x1="1325.7" y1="1731.7" x2="1325.7" y2="1778.3" stroke="#b8161e" stroke-width="1.9"/>
<line x1="1320.8" y1="1731.7" x2="1330.6" y2="1731.7" stroke="#b8161e" stroke-width="1.9"/>
<line x1="1320.8" y1="1778.3" x2="1330.6" y2="1778.3" stroke="#b8161e" stroke-width="1.9"/>
<line x1="1459" y1="1764" x2="1459" y2="1789" stroke="#b8161e" stroke-width="1.9"/>
<line x1="1454.1" y1="1764" x2="1463.9" y2="1764" stroke="#b8161e" stroke-width="1.9"/>
<line x1="1454.1" y1="1789" x2="1463.9" y2="1789" stroke="#b8161e" stroke-width="1.9"/>
<line x1="1590.7" y1="1731.7" x2="1590.7" y2="1761.7" stroke="#b8161e" stroke-width="1.9"/>
<line x1="1585.8" y1="1731.7" x2="1595.6" y2="1731.7" stroke="#b8161e" stroke-width="1.9"/>
<line x1="1585.8" y1="1761.7" x2="1595.6" y2="1761.7" stroke="#b8161e" stroke-width="1.9"/>
<polyline fill="none" stroke="#0672c5" stroke-width="6" stroke-linejoin="miter" points="1060.7,1790 1193.3,1612.7 1325.7,1697.7 1459,1672.3 1590.7,1709"/>
<rect x="1053.4" y="1782.7" width="14.6" height="14.6" fill="#0672c5"/>
<rect x="1186" y="1605.4" width="14.6" height="14.6" fill="#0672c5"/>
<rect x="1318.4" y="1690.4" width="14.6" height="14.6" fill="#0672c5"/>
<rect x="1451.7" y="1665" width="14.6" height="14.6" fill="#0672c5"/>
<rect x="1583.4" y="1701.7" width="14.6" height="14.6" fill="#0672c5"/>
<polyline fill="none" stroke="#fe0000" stroke-width="6" stroke-linejoin="miter" points="1060.7,1819 1193.3,1806 1325.7,1756.7 1459,1776.7 1590.7,1747.3"/>
<rect x="1053.4" y="1811.7" width="14.6" height="14.6" fill="#fe0000"/>
<rect x="1186" y="1798.7" width="14.6" height="14.6" fill="#fe0000"/>
<rect x="1318.4" y="1749.4" width="14.6" height="14.6" fill="#fe0000"/>
<rect x="1451.7" y="1769.4" width="14.6" height="14.6" fill="#fe0000"/>
<rect x="1583.4" y="1740" width="14.6" height="14.6" fill="#fe0000"/>
<line x1="994" y1="1460" x2="994" y2="1841" stroke="#000" stroke-width="2"/>
<line x1="993" y1="1840" x2="1657.5" y2="1840" stroke="#000" stroke-width="2"/>
<line x1="987.6" y1="1840" x2="994" y2="1840" stroke="#000" stroke-width="2"/>
<text x="979.5" y="1847.6" font-size="24.2" text-anchor="end" fill="#000">0</text>
<line x1="987.6" y1="1764.2" x2="994" y2="1764.2" stroke="#000" stroke-width="2"/>
<text x="979.5" y="1771.8" font-size="24.2" text-anchor="end" fill="#000">0.05</text>
<line x1="987.6" y1="1688.4" x2="994" y2="1688.4" stroke="#000" stroke-width="2"/>
<text x="979.5" y="1696" font-size="24.2" text-anchor="end" fill="#000">0.01</text>
<line x1="987.6" y1="1612.6" x2="994" y2="1612.6" stroke="#000" stroke-width="2"/>
<text x="979.5" y="1620.2" font-size="24.2" text-anchor="end" fill="#000">0.015</text>
<line x1="987.6" y1="1536.8" x2="994" y2="1536.8" stroke="#000" stroke-width="2"/>
<text x="979.5" y="1544.4" font-size="24.2" text-anchor="end" fill="#000">0.02</text>
<line x1="987.6" y1="1461" x2="994" y2="1461" stroke="#000" stroke-width="2"/>
<text x="979.5" y="1468.6" font-size="24.2" text-anchor="end" fill="#000">0.025</text>
<line x1="994" y1="1840" x2="994" y2="1846.4" stroke="#000" stroke-width="2"/>
<line x1="1126.5" y1="1840" x2="1126.5" y2="1846.4" stroke="#000" stroke-width="2"/>
<line x1="1259" y1="1840" x2="1259" y2="1846.4" stroke="#000" stroke-width="2"/>
<line x1="1391.5" y1="1840" x2="1391.5" y2="1846.4" stroke="#000" stroke-width="2"/>
<line x1="1524" y1="1840" x2="1524" y2="1846.4" stroke="#000" stroke-width="2"/>
<line x1="1656.5" y1="1840" x2="1656.5" y2="1846.4" stroke="#000" stroke-width="2"/>
<text x="1063.7" y="1873.3" font-size="33.4" text-anchor="middle" fill="#000">pre-</text>
<text x="1064.3" y="1903.8" font-size="33.4" text-anchor="middle" fill="#000">vaccine</text>
<text x="1195.5" y="1873.3" font-size="33.4" text-anchor="middle" fill="#000">+7</text>
<text x="1196.8" y="1903.8" font-size="33.4" text-anchor="middle" fill="#000">days</text>
<text x="1323.7" y="1873.3" font-size="33.4" text-anchor="middle" fill="#000">+14</text>
<text x="1324.5" y="1903.8" font-size="33.4" text-anchor="middle" fill="#000">days</text>
<text x="1459.7" y="1873.3" font-size="33.4" text-anchor="middle" fill="#000">+21</text>
<text x="1465.5" y="1903.8" font-size="33.4" text-anchor="middle" fill="#000">days</text>
<text x="1590" y="1873.3" font-size="33.4" text-anchor="middle" fill="#000">+28</text>
<text x="1590" y="1903.8" font-size="33.4" text-anchor="middle" fill="#000">days</text>
<text x="1193.3" y="1531.8" font-size="24" text-anchor="middle" fill="#1b70b2">**</text>
<text x="1310.4" y="1748.2" font-size="24" text-anchor="middle" fill="#cf1c24">*</text>
<text x="1587.7" y="1667.5" font-size="24" text-anchor="middle" fill="#000">*</text>
<text x="1610.7" y="1743.5" font-size="24" text-anchor="middle" fill="#000">**</text>
<text x="1610.7" y="1760.8" font-size="24" text-anchor="middle" fill="#cf1c24">*</text>
<text x="11.6" y="1990.2" font-size="33.4" text-anchor="start" fill="#000">F</text>
<text x="156.5" y="2022.8" font-size="33.4" text-anchor="middle" fill="#000">Naive</text>
<text x="465.2" y="2022.8" font-size="33.4" text-anchor="middle" fill="#000">ex COVID-19</text>
<path d="M161.8 2170.7 L161.8 2049.9 A120.8 120.8 0 0 1 232.8 2073 Z" fill="#0070c0"/>
<path d="M161.8 2170.7 L232.8 2073 A120.8 120.8 0 0 1 213.2 2280 Z" fill="#c00000"/>
<path d="M161.8 2170.7 L213.2 2280 A120.8 120.8 0 1 1 161.8 2049.9 Z" fill="#7f7f7f"/>
<line x1="161.8" y1="2170.7" x2="161.8" y2="2049.4" stroke="#fff" stroke-width="1.7" stroke-linecap="round"/>
<line x1="161.8" y1="2170.7" x2="233.1" y2="2072.6" stroke="#fff" stroke-width="1.7" stroke-linecap="round"/>
<line x1="161.8" y1="2170.7" x2="213.4" y2="2280.5" stroke="#fff" stroke-width="1.7" stroke-linecap="round"/>
<path d="M464.7 2170.7 L464.7 2049.9 A120.8 120.8 0 0 1 547.4 2082.6 Z" fill="#0070c0"/>
<path d="M464.7 2170.7 L547.4 2082.6 A120.8 120.8 0 0 1 494.7 2287.7 Z" fill="#c00000"/>
<path d="M464.7 2170.7 L494.7 2287.7 A120.8 120.8 0 1 1 464.7 2049.9 Z" fill="#7f7f7f"/>
<line x1="464.7" y1="2170.7" x2="464.7" y2="2049.4" stroke="#fff" stroke-width="1.7" stroke-linecap="round"/>
<line x1="464.7" y1="2170.7" x2="547.7" y2="2082.3" stroke="#fff" stroke-width="1.7" stroke-linecap="round"/>
<line x1="464.7" y1="2170.7" x2="494.9" y2="2288.2" stroke="#fff" stroke-width="1.7" stroke-linecap="round"/>
<text x="196.4" y="2050.4" font-size="24.4" text-anchor="start" fill="#000">10%</text>
<text x="16.8" y="2088.7" font-size="24.4" text-anchor="start" fill="#000">57%</text>
<text x="255" y="2270.6" font-size="24.4" text-anchor="start" fill="#000">33%</text>
<text x="509.8" y="2056.8" font-size="24.4" text-anchor="start" fill="#000">12%</text>
<text x="318.8" y="2092.2" font-size="24.4" text-anchor="start" fill="#000">54%</text>
<text x="560.8" y="2262.6" font-size="24.4" text-anchor="start" fill="#000">34%</text>
<rect x="661.1" y="2051.1" width="34.8" height="32.8" fill="#7f7f7f"/>
<text x="706.4" y="2077.6" font-size="33.4" text-anchor="start" fill="#000">1 cytokine</text>
<rect x="661.1" y="2106.1" width="34.8" height="32.8" fill="#c00000"/>
<text x="709.4" y="2134.8" font-size="33.4" text-anchor="start" fill="#000">2 cytokines</text>
<rect x="661.1" y="2160" width="34.8" height="32.8" fill="#0070c0"/>
<text x="709.4" y="2185.6" font-size="33.4" text-anchor="start" fill="#000">3 cytokines</text>
<text x="984.4" y="2002" font-size="33.4" text-anchor="start" fill="#000">G</text>
<text x="1145.8" y="2022.8" font-size="33.4" text-anchor="middle" fill="#000">Naive</text>
<text x="1463.1" y="2022.8" font-size="33.4" text-anchor="middle" fill="#000">ex COVID-19</text>
<path d="M1151.7 2171.5 L1151.7 2050.7 A120.8 120.8 0 0 1 1272 2182.1 Z" fill="#8497b0"/>
<path d="M1151.7 2171.5 L1272 2182.1 A120.8 120.8 0 0 1 1203.1 2280.8 Z" fill="#548235"/>
<path d="M1151.7 2171.5 L1203.1 2280.8 A120.8 120.8 0 0 1 1144.1 2292.1 Z" fill="#7030a0"/>
<path d="M1151.7 2171.5 L1144.1 2292.1 A120.8 120.8 0 0 1 1151.7 2050.7 Z" fill="#c55a11"/>
<line x1="1151.7" y1="2171.5" x2="1151.7" y2="2050.2" stroke="#fff" stroke-width="1.7" stroke-linecap="round"/>
<line x1="1151.7" y1="2171.5" x2="1272.5" y2="2182.2" stroke="#fff" stroke-width="1.7" stroke-linecap="round"/>
<line x1="1151.7" y1="2171.5" x2="1203.3" y2="2281.3" stroke="#fff" stroke-width="1.7" stroke-linecap="round"/>
<line x1="1151.7" y1="2171.5" x2="1144.1" y2="2292.6" stroke="#fff" stroke-width="1.7" stroke-linecap="round"/>
<path d="M1460.4 2170.7 L1460.4 2049.9 A120.8 120.8 0 0 1 1581.1 2174.5 Z" fill="#8497b0"/>
<path d="M1460.4 2170.7 L1581.1 2174.5 A120.8 120.8 0 0 1 1444.5 2290.4 Z" fill="#548235"/>
<path d="M1460.4 2170.7 L1444.5 2290.4 A120.8 120.8 0 0 1 1380.5 2261.3 Z" fill="#7030a0"/>
<path d="M1460.4 2170.7 L1380.5 2261.3 A120.8 120.8 0 0 1 1460.4 2049.9 Z" fill="#c55a11"/>
<line x1="1460.4" y1="2170.7" x2="1460.4" y2="2049.4" stroke="#fff" stroke-width="1.7" stroke-linecap="round"/>
<line x1="1460.4" y1="2170.7" x2="1581.6" y2="2174.5" stroke="#fff" stroke-width="1.7" stroke-linecap="round"/>
<line x1="1460.4" y1="2170.7" x2="1444.4" y2="2290.9" stroke="#fff" stroke-width="1.7" stroke-linecap="round"/>
<line x1="1460.4" y1="2170.7" x2="1380.2" y2="2261.7" stroke="#fff" stroke-width="1.7" stroke-linecap="round"/>
<text x="1209.4" y="2062.3" font-size="24.4" text-anchor="start" fill="#000">26.4%</text>
<text x="970.2" y="2144.4" font-size="24.4" text-anchor="start" fill="#000">49%</text>
<text x="1233" y="2280.7" font-size="24.4" text-anchor="start" fill="#000">16.6%</text>
<text x="1160.8" y="2324.1" font-size="24.4" text-anchor="start" fill="#000">8%</text>
<text x="1322.6" y="2064.1" font-size="24.4" text-anchor="start" fill="#000">38.5%</text>
<text x="1527.9" y="2066" font-size="24.4" text-anchor="start" fill="#000">25.5%</text>
<text x="1367.5" y="2304.4" font-size="24.4" text-anchor="start" fill="#000">9.4%</text>
<text x="1545.8" y="2289" font-size="24.4" text-anchor="start" fill="#000">26.6%</text>
<rect x="1631.1" y="2051.1" width="34.8" height="32.8" fill="#c55a11"/>
<text x="1676.4" y="2079.3" font-size="33.4" text-anchor="start" fill="#000">TIGIT-PD1-</text>
<rect x="1631.1" y="2106.1" width="34.8" height="32.8" fill="#8497b0"/>
<text x="1672.2" y="2132.6" font-size="33.4" text-anchor="start" fill="#000">TIGIT-PD1+</text>
<rect x="1631.1" y="2160" width="34.8" height="32.8" fill="#548235"/>
<text x="1672.2" y="2186.9" font-size="33.4" text-anchor="start" fill="#000">TIGIT+PD1+</text>
<rect x="1631.1" y="2213" width="34.8" height="32.8" fill="#7030a0"/>
<text x="1673.2" y="2239.9" font-size="33.4" text-anchor="start" fill="#000">TIGIT+PD1-</text>
</svg></body></html>
